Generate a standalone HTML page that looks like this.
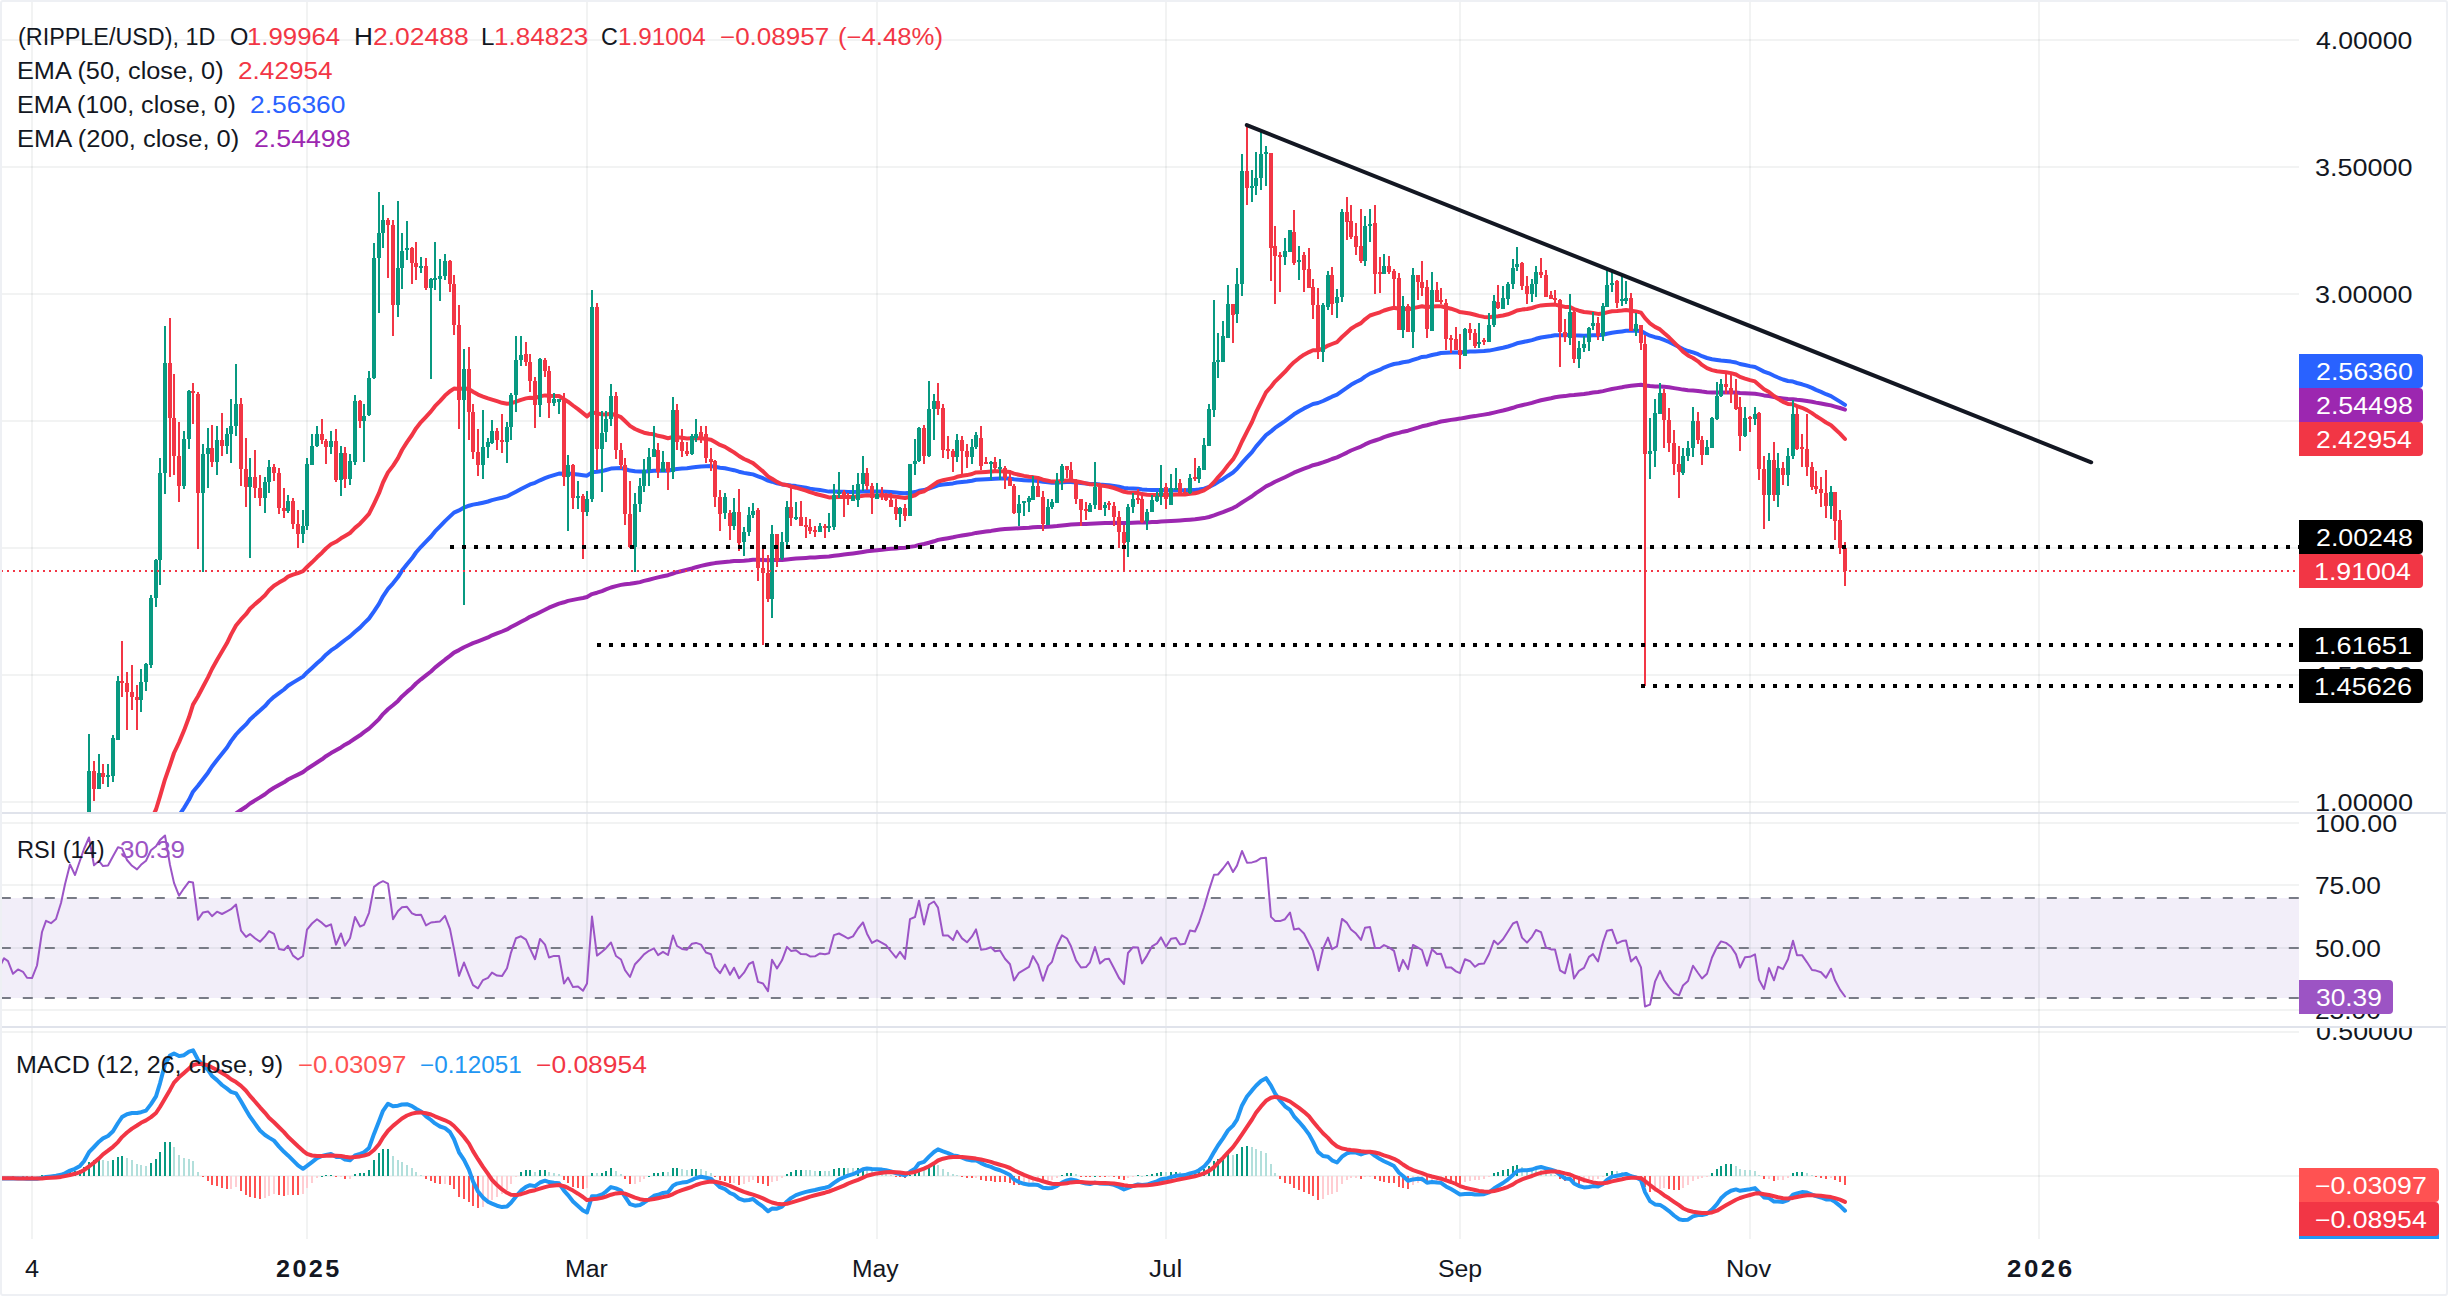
<!DOCTYPE html>
<html><head><meta charset="utf-8"><style>
html,body{margin:0;padding:0;background:#fff;}
body{width:2448px;height:1296px;position:relative;overflow:hidden;font-family:"Liberation Sans", Arial, sans-serif;}
.t{position:absolute;white-space:pre;font-size:23px;line-height:1;color:#131722;transform-origin:0 0;}
.ax{position:absolute;white-space:pre;font-size:23.5px;line-height:1;color:#131722;}
.lb{position:absolute;height:34px;line-height:34px;color:#fff;font-size:23.5px;border-radius:0 4px 4px 0;box-sizing:border-box;padding-left:14px;}
.r{color:#f23645}
</style></head><body>
<svg width="2448" height="1296" viewBox="0 0 2448 1296" style="position:absolute;left:0;top:0">
<defs><clipPath id="cm"><rect x="2" y="2" width="2297" height="810"/></clipPath><clipPath id="cr"><rect x="2" y="814" width="2297" height="212"/></clipPath><clipPath id="cd"><rect x="2" y="1028" width="2297" height="211"/></clipPath></defs>
<rect x="0" y="0" width="2448" height="1296" fill="#ffffff"/>
<rect x="0" y="898.0" width="2299" height="100.0" fill="#f2eef9"/>
<rect x="31" y="2" width="2" height="1237" fill="rgba(42,46,57,0.06)"/>
<rect x="306" y="2" width="2" height="1237" fill="rgba(42,46,57,0.06)"/>
<rect x="586" y="2" width="2" height="1237" fill="rgba(42,46,57,0.06)"/>
<rect x="876" y="2" width="2" height="1237" fill="rgba(42,46,57,0.06)"/>
<rect x="1165" y="2" width="2" height="1237" fill="rgba(42,46,57,0.06)"/>
<rect x="1459" y="2" width="2" height="1237" fill="rgba(42,46,57,0.06)"/>
<rect x="1749" y="2" width="2" height="1237" fill="rgba(42,46,57,0.06)"/>
<rect x="2038" y="2" width="2" height="1237" fill="rgba(42,46,57,0.06)"/>
<rect x="2" y="801.0" width="2297" height="2" fill="rgba(42,46,57,0.06)"/>
<rect x="2" y="674.0" width="2297" height="2" fill="rgba(42,46,57,0.06)"/>
<rect x="2" y="547.0" width="2297" height="2" fill="rgba(42,46,57,0.06)"/>
<rect x="2" y="420.0" width="2297" height="2" fill="rgba(42,46,57,0.06)"/>
<rect x="2" y="293.0" width="2297" height="2" fill="rgba(42,46,57,0.06)"/>
<rect x="2" y="166.0" width="2297" height="2" fill="rgba(42,46,57,0.06)"/>
<rect x="2" y="39.0" width="2297" height="2" fill="rgba(42,46,57,0.06)"/>
<rect x="2" y="822.0" width="2297" height="2" fill="rgba(42,46,57,0.06)"/>
<rect x="2" y="884.0" width="2297" height="2" fill="rgba(42,46,57,0.06)"/>
<rect x="2" y="947.0" width="2297" height="2" fill="rgba(42,46,57,0.06)"/>
<rect x="2" y="1009.0" width="2297" height="2" fill="rgba(42,46,57,0.06)"/>
<rect x="2" y="1031.0" width="2297" height="2" fill="rgba(42,46,57,0.06)"/>
<rect x="2" y="1175.0" width="2297" height="2" fill="rgba(42,46,57,0.06)"/>
<g clip-path="url(#cm)">
<polyline points="-25.0,915.2 -20.0,915.1 -15.0,915.1 -11.0,915.1 -6.0,915.1 -1.0,915.1 4.0,915.1 8.0,915.0 13.0,915.1 18.0,915.1 23.0,915.1 27.0,915.1 32.0,915.2 37.0,915.2 42.0,915.1 46.0,915.0 51.0,915.0 56.0,914.9 61.0,914.7 65.0,914.5 70.0,914.1 75.0,913.8 80.0,913.2 84.0,912.4 89.0,911.0 94.0,909.8 99.0,908.5 103.0,907.1 108.0,905.8 113.0,904.2 118.0,901.9 122.0,899.8 127.0,897.7 132.0,895.7 137.0,893.8 141.0,891.7 146.0,889.4 151.0,886.5 156.0,883.2 160.0,879.2 165.0,874.0 170.0,869.5 174.0,865.4 179.0,861.6 184.0,857.4 189.0,852.7 193.0,848.2 198.0,844.6 203.0,840.8 208.0,836.8 212.0,833.1 217.0,829.2 222.0,825.4 227.0,821.5 231.0,817.6 236.0,813.5 241.0,810.0 246.0,806.8 250.0,803.5 255.0,800.4 260.0,797.4 265.0,794.2 269.0,791.0 274.0,787.8 279.0,785.0 284.0,782.3 288.0,779.5 293.0,777.0 298.0,774.6 303.0,772.1 307.0,769.0 312.0,765.8 317.0,762.5 322.0,759.3 326.0,756.2 331.0,753.1 336.0,750.3 341.0,747.4 345.0,744.7 350.0,741.9 355.0,738.5 360.0,735.3 364.0,732.2 369.0,728.6 374.0,723.9 379.0,719.1 383.0,714.1 388.0,709.2 393.0,705.2 398.0,700.9 402.0,696.4 407.0,691.9 412.0,687.7 416.0,683.5 421.0,679.3 426.0,675.4 431.0,671.5 435.0,667.6 440.0,663.7 445.0,659.7 450.0,655.9 454.0,652.6 459.0,650.1 464.0,647.3 469.0,645.0 473.0,643.1 478.0,641.3 483.0,639.4 488.0,637.4 492.0,635.3 497.0,633.4 502.0,631.5 507.0,629.4 511.0,627.1 516.0,624.4 521.0,621.8 526.0,619.2 530.0,616.8 535.0,614.7 540.0,612.2 545.0,609.8 549.0,607.7 554.0,605.6 559.0,603.6 564.0,602.3 568.0,600.9 573.0,599.9 578.0,598.9 583.0,598.0 587.0,597.0 592.0,594.1 597.0,592.7 602.0,591.1 606.0,589.4 611.0,587.5 616.0,586.1 621.0,584.9 625.0,584.2 630.0,583.8 635.0,583.0 640.0,582.1 644.0,580.9 649.0,579.7 654.0,578.4 658.0,577.4 663.0,576.2 668.0,575.2 673.0,573.5 677.0,572.2 682.0,571.0 687.0,569.8 692.0,568.5 696.0,567.2 701.0,565.9 706.0,564.8 711.0,563.8 715.0,563.1 720.0,562.6 725.0,562.0 730.0,561.6 734.0,561.1 739.0,560.9 744.0,560.7 749.0,560.2 753.0,559.7 758.0,559.8 763.0,559.9 768.0,560.3 772.0,560.1 777.0,560.1 782.0,559.9 787.0,559.4 791.0,559.0 796.0,558.5 801.0,558.2 806.0,557.9 810.0,557.6 815.0,557.4 820.0,557.1 825.0,556.8 829.0,556.5 834.0,555.8 839.0,555.2 844.0,554.6 848.0,554.1 853.0,553.5 858.0,552.8 863.0,552.0 867.0,551.3 872.0,550.8 877.0,550.2 882.0,549.7 886.0,549.2 891.0,548.8 896.0,548.5 900.0,548.1 905.0,547.8 910.0,546.9 915.0,546.1 919.0,544.9 924.0,544.0 929.0,542.7 934.0,541.3 938.0,539.9 943.0,539.0 948.0,538.2 953.0,537.3 957.0,536.4 962.0,535.5 967.0,534.7 972.0,533.9 976.0,532.9 981.0,532.2 986.0,531.6 991.0,530.9 995.0,530.2 1000.0,529.6 1005.0,529.1 1010.0,528.7 1014.0,528.5 1019.0,528.3 1024.0,528.0 1029.0,527.7 1033.0,527.3 1038.0,527.0 1043.0,527.0 1048.0,526.8 1052.0,526.5 1057.0,526.1 1062.0,525.5 1067.0,524.9 1071.0,524.4 1076.0,524.2 1081.0,524.1 1086.0,523.9 1090.0,523.7 1095.0,523.4 1100.0,523.2 1105.0,523.0 1109.0,522.9 1114.0,522.8 1119.0,522.9 1124.0,523.1 1128.0,522.9 1133.0,522.7 1138.0,522.5 1142.0,522.5 1147.0,522.4 1152.0,522.1 1157.0,521.9 1161.0,521.5 1166.0,521.3 1171.0,521.0 1176.0,520.7 1180.0,520.4 1185.0,520.1 1190.0,519.7 1195.0,519.3 1199.0,518.8 1204.0,518.1 1209.0,517.0 1214.0,515.4 1218.0,513.9 1223.0,512.1 1228.0,510.1 1233.0,508.1 1237.0,505.9 1242.0,502.5 1247.0,499.4 1252.0,496.3 1256.0,493.1 1261.0,489.8 1266.0,486.4 1271.0,484.0 1275.0,481.8 1280.0,479.5 1285.0,477.2 1290.0,474.8 1294.0,472.7 1299.0,470.6 1304.0,468.6 1309.0,466.8 1313.0,465.2 1318.0,464.0 1323.0,462.4 1328.0,460.6 1332.0,459.0 1337.0,457.4 1342.0,455.0 1347.0,452.6 1351.0,450.5 1356.0,448.5 1361.0,446.6 1365.0,444.4 1370.0,442.2 1375.0,440.5 1380.0,438.9 1384.0,437.2 1389.0,435.5 1394.0,434.0 1399.0,432.9 1403.0,431.7 1408.0,430.7 1413.0,429.1 1418.0,427.6 1422.0,426.3 1427.0,425.3 1432.0,423.9 1437.0,422.7 1441.0,421.5 1446.0,420.7 1451.0,419.9 1456.0,419.2 1460.0,418.6 1465.0,417.7 1470.0,416.8 1475.0,416.1 1479.0,415.4 1484.0,414.6 1489.0,413.8 1494.0,412.6 1498.0,411.6 1503.0,410.5 1508.0,409.2 1513.0,407.8 1517.0,406.4 1522.0,405.2 1527.0,404.1 1532.0,402.9 1536.0,401.6 1541.0,400.3 1546.0,399.3 1551.0,398.3 1555.0,397.3 1560.0,396.6 1565.0,396.1 1570.0,395.2 1574.0,394.9 1579.0,394.4 1584.0,393.9 1589.0,393.2 1593.0,392.5 1598.0,392.0 1603.0,391.1 1607.0,390.1 1612.0,389.0 1617.0,388.1 1622.0,387.3 1626.0,386.4 1631.0,385.8 1636.0,385.2 1641.0,384.8 1645.0,385.5 1650.0,386.1 1655.0,386.4 1660.0,386.4 1664.0,386.8 1669.0,387.3 1674.0,388.1 1679.0,388.9 1683.0,389.6 1688.0,390.2 1693.0,390.5 1698.0,391.0 1702.0,391.6 1707.0,392.2 1712.0,392.5 1717.0,392.5 1721.0,392.4 1726.0,392.4 1731.0,392.4 1736.0,392.5 1740.0,393.0 1745.0,393.2 1750.0,393.5 1755.0,393.7 1759.0,394.4 1764.0,395.4 1769.0,396.1 1774.0,397.1 1778.0,397.8 1783.0,398.5 1788.0,399.1 1793.0,399.2 1797.0,399.7 1802.0,400.2 1807.0,400.9 1812.0,401.7 1816.0,402.6 1821.0,403.5 1826.0,404.5 1831.0,405.4 1835.0,406.6 1840.0,408.0 1845.0,409.6" fill="none" stroke="#9c27b0" stroke-width="4" stroke-linejoin="round" stroke-linecap="round"/>
<polyline points="-25.0,914.0 -20.0,914.0 -15.0,914.0 -11.0,913.9 -6.0,913.9 -1.0,913.9 4.0,913.9 8.0,913.9 13.0,914.0 18.0,914.0 23.0,914.1 27.0,914.2 32.0,914.3 37.0,914.3 42.0,914.2 46.0,914.1 51.0,913.9 56.0,913.8 61.0,913.5 65.0,913.1 70.0,912.4 75.0,911.7 80.0,910.7 84.0,909.1 89.0,906.4 94.0,904.1 99.0,901.5 103.0,899.0 108.0,896.5 113.0,893.4 118.0,889.2 122.0,885.1 127.0,881.3 132.0,877.7 137.0,874.2 141.0,870.4 146.0,866.3 151.0,861.0 156.0,855.0 160.0,847.4 165.0,837.8 170.0,829.5 174.0,822.1 179.0,815.5 184.0,808.0 189.0,799.8 193.0,791.7 198.0,785.8 203.0,779.2 208.0,772.7 212.0,766.5 217.0,760.0 222.0,753.8 227.0,747.5 231.0,741.1 236.0,734.5 241.0,729.2 246.0,724.4 250.0,719.5 255.0,714.9 260.0,710.6 265.0,706.1 269.0,701.4 274.0,696.8 279.0,693.1 284.0,689.5 288.0,685.8 293.0,682.6 298.0,679.6 303.0,676.6 307.0,672.4 312.0,667.9 317.0,663.3 322.0,658.9 326.0,654.7 331.0,650.4 336.0,647.1 341.0,643.2 345.0,640.0 350.0,636.4 355.0,631.8 360.0,627.6 364.0,623.4 369.0,618.5 374.0,611.4 379.0,603.9 383.0,596.3 388.0,588.9 393.0,583.3 398.0,577.1 402.0,570.6 407.0,564.2 412.0,558.3 416.0,552.5 421.0,546.8 426.0,541.7 431.0,536.5 435.0,531.4 440.0,526.3 445.0,521.1 450.0,516.4 454.0,512.6 459.0,510.4 464.0,507.6 469.0,505.7 473.0,504.6 478.0,503.8 483.0,502.7 488.0,501.5 492.0,500.1 497.0,498.9 502.0,497.8 507.0,496.4 511.0,494.3 516.0,491.7 521.0,489.0 526.0,486.5 530.0,484.4 535.0,482.8 540.0,480.3 545.0,478.2 549.0,476.7 554.0,475.2 559.0,473.6 564.0,473.7 568.0,473.5 573.0,474.0 578.0,474.5 583.0,475.2 587.0,475.7 592.0,472.3 597.0,471.8 602.0,471.1 606.0,470.0 611.0,468.6 616.0,468.2 621.0,468.1 625.0,469.0 630.0,470.6 635.0,471.3 640.0,471.6 644.0,471.5 649.0,471.2 654.0,470.8 658.0,470.8 663.0,470.6 668.0,470.7 673.0,469.5 677.0,468.9 682.0,468.6 687.0,468.3 692.0,467.6 696.0,467.0 701.0,466.4 706.0,466.2 711.0,466.1 715.0,466.8 720.0,467.7 725.0,468.3 730.0,469.4 734.0,470.2 739.0,471.7 744.0,472.9 749.0,473.7 753.0,474.4 758.0,476.3 763.0,478.2 768.0,480.6 772.0,481.7 777.0,483.3 782.0,484.4 787.0,484.9 791.0,485.5 796.0,486.1 801.0,486.9 806.0,487.7 810.0,488.6 815.0,489.4 820.0,490.1 825.0,490.9 829.0,491.6 834.0,491.6 839.0,491.7 844.0,491.7 848.0,491.9 853.0,492.0 858.0,491.8 863.0,491.4 867.0,491.3 872.0,491.5 877.0,491.5 882.0,491.6 886.0,491.8 891.0,492.1 896.0,492.5 900.0,492.9 905.0,493.3 910.0,492.7 915.0,492.1 919.0,490.8 924.0,490.1 929.0,488.5 934.0,486.8 938.0,485.3 943.0,484.6 948.0,483.9 953.0,483.4 957.0,482.5 962.0,481.9 967.0,481.4 972.0,480.7 976.0,479.8 981.0,479.5 986.0,479.2 991.0,478.9 995.0,478.7 1000.0,478.4 1005.0,478.4 1010.0,478.6 1014.0,479.3 1019.0,479.8 1024.0,480.2 1029.0,480.5 1033.0,480.6 1038.0,481.0 1043.0,481.8 1048.0,482.3 1052.0,482.7 1057.0,482.7 1062.0,482.3 1067.0,482.1 1071.0,482.0 1076.0,482.4 1081.0,482.9 1086.0,483.5 1090.0,483.9 1095.0,483.9 1100.0,484.5 1105.0,484.9 1109.0,485.2 1114.0,485.9 1119.0,486.8 1124.0,487.9 1128.0,488.3 1133.0,488.5 1138.0,488.7 1142.0,489.4 1147.0,489.8 1152.0,490.0 1157.0,490.1 1161.0,490.1 1166.0,490.3 1171.0,490.2 1176.0,490.2 1180.0,490.3 1185.0,490.3 1190.0,490.1 1195.0,489.9 1199.0,489.4 1204.0,488.6 1209.0,487.0 1214.0,484.5 1218.0,482.0 1223.0,479.2 1228.0,475.7 1233.0,472.5 1237.0,468.8 1242.0,462.9 1247.0,457.4 1252.0,452.1 1256.0,446.6 1261.0,440.9 1266.0,435.1 1271.0,431.4 1275.0,427.9 1280.0,424.5 1285.0,421.1 1290.0,417.3 1294.0,414.3 1299.0,411.2 1304.0,408.4 1309.0,406.0 1313.0,404.0 1318.0,403.0 1323.0,401.0 1328.0,398.6 1332.0,396.7 1337.0,394.7 1342.0,391.1 1347.0,387.7 1351.0,384.8 1356.0,382.0 1361.0,379.6 1365.0,376.6 1370.0,373.6 1375.0,371.6 1380.0,369.7 1384.0,367.6 1389.0,365.7 1394.0,364.0 1399.0,363.3 1403.0,362.2 1408.0,361.6 1413.0,359.9 1418.0,358.3 1422.0,356.9 1427.0,356.4 1432.0,355.0 1437.0,354.0 1441.0,353.0 1446.0,352.7 1451.0,352.4 1456.0,352.4 1460.0,352.4 1465.0,352.0 1470.0,351.6 1475.0,351.5 1479.0,351.3 1484.0,351.1 1489.0,350.6 1494.0,349.6 1498.0,348.8 1503.0,347.8 1508.0,346.5 1513.0,344.9 1517.0,343.3 1522.0,342.2 1527.0,341.2 1532.0,340.1 1536.0,338.8 1541.0,337.5 1546.0,336.7 1551.0,336.0 1555.0,335.2 1560.0,335.2 1565.0,335.2 1570.0,334.8 1574.0,335.2 1579.0,335.5 1584.0,335.7 1589.0,335.5 1593.0,335.3 1598.0,335.3 1603.0,334.7 1607.0,333.7 1612.0,332.7 1617.0,332.1 1622.0,331.4 1626.0,330.8 1631.0,330.8 1636.0,330.7 1641.0,330.9 1645.0,333.3 1650.0,335.7 1655.0,337.2 1660.0,338.3 1664.0,339.9 1669.0,342.0 1674.0,344.4 1679.0,346.9 1683.0,349.1 1688.0,351.0 1693.0,352.4 1698.0,354.2 1702.0,356.2 1707.0,358.0 1712.0,359.2 1717.0,359.9 1721.0,360.4 1726.0,360.9 1731.0,361.6 1736.0,362.5 1740.0,364.0 1745.0,365.0 1750.0,366.1 1755.0,367.0 1759.0,369.1 1764.0,371.6 1769.0,373.3 1774.0,375.7 1778.0,377.5 1783.0,379.5 1788.0,381.0 1793.0,381.6 1797.0,383.0 1802.0,384.3 1807.0,385.9 1812.0,387.9 1816.0,389.9 1821.0,391.9 1826.0,394.2 1831.0,396.1 1835.0,398.6 1840.0,401.6 1845.0,404.9" fill="none" stroke="#2962ff" stroke-width="4" stroke-linejoin="round" stroke-linecap="round"/>
<polyline points="-25.0,911.1 -20.0,911.2 -15.0,911.3 -11.0,911.3 -6.0,911.4 -1.0,911.5 4.0,911.6 8.0,911.7 13.0,911.9 18.0,912.1 23.0,912.3 27.0,912.5 32.0,912.7 37.0,912.9 42.0,912.8 46.0,912.5 51.0,912.3 56.0,912.1 61.0,911.6 65.0,910.9 70.0,909.5 75.0,908.3 80.0,906.4 84.0,903.5 89.0,898.3 94.0,894.0 99.0,889.3 103.0,884.9 108.0,880.6 113.0,875.0 118.0,867.4 122.0,860.1 127.0,853.6 132.0,847.4 137.0,841.7 141.0,835.4 146.0,828.7 151.0,819.7 156.0,809.5 160.0,796.3 165.0,779.3 170.0,765.1 174.0,753.0 179.0,742.5 184.0,730.6 189.0,717.3 193.0,704.6 198.0,696.3 203.0,686.8 208.0,677.4 212.0,669.0 217.0,660.0 222.0,651.6 227.0,643.1 231.0,634.6 236.0,625.5 241.0,619.4 246.0,614.2 250.0,608.8 255.0,604.1 260.0,599.9 265.0,595.3 269.0,590.3 274.0,585.7 279.0,582.6 284.0,579.8 288.0,576.7 293.0,574.7 298.0,573.1 303.0,571.2 307.0,567.0 312.0,562.3 317.0,557.3 322.0,552.7 326.0,548.5 331.0,544.3 336.0,541.8 341.0,538.3 345.0,536.0 350.0,533.0 355.0,527.9 360.0,523.7 364.0,519.4 369.0,513.9 374.0,503.8 379.0,493.2 383.0,482.5 388.0,472.4 393.0,465.9 398.0,458.1 402.0,450.0 407.0,442.1 412.0,435.0 416.0,428.4 421.0,422.1 426.0,416.8 431.0,411.4 435.0,406.2 440.0,401.1 445.0,395.6 450.0,391.2 454.0,388.6 459.0,389.1 464.0,388.3 469.0,389.2 473.0,391.7 478.0,394.6 483.0,396.6 488.0,398.4 492.0,399.6 497.0,401.2 502.0,402.8 507.0,403.7 511.0,403.4 516.0,401.7 521.0,399.9 526.0,398.4 530.0,397.7 535.0,398.0 540.0,396.4 545.0,395.4 549.0,395.7 554.0,395.9 559.0,396.0 564.0,399.2 568.0,401.7 573.0,405.5 578.0,409.1 583.0,413.1 587.0,416.4 592.0,412.1 597.0,413.6 602.0,414.3 606.0,414.5 611.0,413.8 616.0,415.2 621.0,417.2 625.0,421.0 630.0,425.9 635.0,429.0 640.0,431.2 644.0,432.7 649.0,433.7 654.0,434.3 658.0,435.8 663.0,436.8 668.0,438.2 673.0,437.0 677.0,437.2 682.0,437.8 687.0,438.4 692.0,438.3 696.0,438.2 701.0,438.2 706.0,438.9 711.0,439.8 715.0,442.1 720.0,444.9 725.0,446.9 730.0,450.0 734.0,452.4 739.0,456.0 744.0,459.0 749.0,461.2 753.0,463.1 758.0,467.2 763.0,471.4 768.0,476.4 772.0,478.7 777.0,481.9 782.0,484.3 787.0,485.2 791.0,486.5 796.0,487.7 801.0,489.2 806.0,490.6 810.0,492.2 815.0,493.7 820.0,495.0 825.0,496.3 829.0,497.4 834.0,497.3 839.0,497.1 844.0,497.1 848.0,497.1 853.0,497.1 858.0,496.6 863.0,495.7 867.0,495.3 872.0,495.4 877.0,495.4 882.0,495.4 886.0,495.6 891.0,496.1 896.0,496.8 900.0,497.2 905.0,498.0 910.0,496.7 915.0,495.3 919.0,492.6 924.0,491.2 929.0,488.0 934.0,484.5 938.0,481.6 943.0,480.3 948.0,479.1 953.0,478.3 957.0,476.8 962.0,475.8 967.0,475.1 972.0,474.0 976.0,472.4 981.0,472.2 986.0,471.9 991.0,471.5 995.0,471.3 1000.0,471.2 1005.0,471.4 1010.0,472.0 1014.0,473.6 1019.0,474.8 1024.0,475.9 1029.0,476.7 1033.0,477.1 1038.0,477.9 1043.0,479.7 1048.0,480.7 1052.0,481.6 1057.0,481.6 1062.0,480.9 1067.0,480.5 1071.0,480.5 1076.0,481.2 1081.0,482.3 1086.0,483.4 1090.0,484.3 1095.0,484.4 1100.0,485.4 1105.0,486.1 1109.0,486.8 1114.0,488.0 1119.0,489.8 1124.0,491.8 1128.0,492.4 1133.0,492.7 1138.0,493.0 1142.0,494.1 1147.0,494.8 1152.0,495.0 1157.0,495.0 1161.0,494.8 1166.0,494.9 1171.0,494.7 1176.0,494.4 1180.0,494.4 1185.0,494.4 1190.0,493.7 1195.0,493.2 1199.0,492.2 1204.0,490.3 1209.0,487.1 1214.0,482.2 1218.0,477.4 1223.0,471.9 1228.0,465.3 1233.0,459.4 1237.0,452.5 1242.0,441.5 1247.0,431.6 1252.0,422.0 1256.0,412.4 1261.0,402.3 1266.0,392.4 1271.0,386.7 1275.0,381.6 1280.0,376.7 1285.0,371.8 1290.0,366.2 1294.0,362.2 1299.0,358.2 1304.0,354.7 1309.0,352.1 1313.0,350.2 1318.0,350.3 1323.0,348.5 1328.0,345.6 1332.0,344.0 1337.0,342.1 1342.0,337.0 1347.0,332.5 1351.0,328.8 1356.0,325.6 1361.0,323.1 1365.0,319.3 1370.0,315.5 1375.0,313.9 1380.0,312.3 1384.0,310.5 1389.0,309.0 1394.0,307.8 1399.0,308.7 1403.0,308.6 1408.0,309.5 1413.0,308.1 1418.0,307.1 1422.0,306.3 1427.0,307.2 1432.0,306.5 1437.0,306.3 1441.0,306.2 1446.0,307.5 1451.0,308.7 1456.0,310.3 1460.0,312.1 1465.0,312.7 1470.0,313.5 1475.0,314.8 1479.0,315.9 1484.0,316.9 1489.0,317.2 1494.0,316.6 1498.0,316.2 1503.0,315.5 1508.0,314.3 1513.0,312.4 1517.0,310.5 1522.0,309.6 1527.0,309.0 1532.0,308.0 1536.0,306.6 1541.0,305.4 1546.0,305.0 1551.0,304.8 1555.0,304.6 1560.0,305.7 1565.0,306.9 1570.0,307.1 1574.0,309.1 1579.0,310.7 1584.0,312.0 1589.0,312.6 1593.0,313.0 1598.0,313.9 1603.0,313.6 1607.0,312.4 1612.0,311.3 1617.0,311.0 1622.0,310.5 1626.0,310.0 1631.0,310.8 1636.0,311.4 1641.0,312.6 1645.0,318.1 1650.0,323.3 1655.0,326.9 1660.0,329.4 1664.0,333.0 1669.0,337.3 1674.0,342.3 1679.0,347.4 1683.0,351.6 1688.0,355.4 1693.0,358.0 1698.0,361.3 1702.0,364.9 1707.0,368.2 1712.0,370.1 1717.0,371.2 1721.0,371.7 1726.0,372.3 1731.0,373.1 1736.0,374.5 1740.0,376.9 1745.0,378.6 1750.0,380.1 1755.0,381.4 1759.0,384.9 1764.0,389.2 1769.0,392.0 1774.0,396.0 1778.0,398.8 1783.0,401.8 1788.0,403.9 1793.0,404.3 1797.0,406.1 1802.0,407.8 1807.0,410.1 1812.0,413.1 1816.0,416.0 1821.0,419.1 1826.0,422.5 1831.0,425.2 1835.0,429.0 1840.0,433.6 1845.0,439.0" fill="none" stroke="#f23645" stroke-width="4" stroke-linejoin="round" stroke-linecap="round"/>
<rect x="88" y="734" width="2" height="96" fill="#089981"/>
<rect x="87" y="771" width="4" height="59" fill="#089981"/>
<rect x="93" y="761" width="2" height="40" fill="#f23645"/>
<rect x="92" y="771" width="4" height="18" fill="#f23645"/>
<rect x="98" y="754" width="2" height="35" fill="#089981"/>
<rect x="97" y="773" width="4" height="16" fill="#089981"/>
<rect x="102" y="764" width="2" height="20" fill="#f23645"/>
<rect x="101" y="773" width="4" height="4" fill="#f23645"/>
<rect x="107" y="764" width="2" height="23" fill="#089981"/>
<rect x="106" y="775" width="4" height="2" fill="#089981"/>
<rect x="112" y="735" width="2" height="47" fill="#089981"/>
<rect x="111" y="738" width="4" height="38" fill="#089981"/>
<rect x="117" y="676" width="2" height="64" fill="#089981"/>
<rect x="116" y="681" width="4" height="59" fill="#089981"/>
<rect x="121" y="641" width="2" height="56" fill="#f23645"/>
<rect x="120" y="681" width="4" height="2" fill="#f23645"/>
<rect x="126" y="672" width="2" height="58" fill="#f23645"/>
<rect x="125" y="683" width="4" height="9" fill="#f23645"/>
<rect x="131" y="665" width="2" height="45" fill="#f23645"/>
<rect x="130" y="692" width="4" height="5" fill="#f23645"/>
<rect x="136" y="685" width="2" height="45" fill="#f23645"/>
<rect x="135" y="697" width="4" height="3" fill="#f23645"/>
<rect x="140" y="669" width="2" height="43" fill="#089981"/>
<rect x="139" y="682" width="4" height="18" fill="#089981"/>
<rect x="145" y="663" width="2" height="28" fill="#089981"/>
<rect x="144" y="664" width="4" height="18" fill="#089981"/>
<rect x="150" y="595" width="2" height="73" fill="#089981"/>
<rect x="149" y="598" width="4" height="67" fill="#089981"/>
<rect x="155" y="559" width="2" height="48" fill="#089981"/>
<rect x="154" y="560" width="4" height="38" fill="#089981"/>
<rect x="159" y="458" width="2" height="127" fill="#089981"/>
<rect x="158" y="473" width="4" height="87" fill="#089981"/>
<rect x="164" y="326" width="2" height="168" fill="#089981"/>
<rect x="163" y="363" width="4" height="110" fill="#089981"/>
<rect x="169" y="318" width="2" height="159" fill="#f23645"/>
<rect x="168" y="363" width="4" height="55" fill="#f23645"/>
<rect x="173" y="374" width="2" height="101" fill="#f23645"/>
<rect x="172" y="418" width="4" height="38" fill="#f23645"/>
<rect x="178" y="422" width="2" height="80" fill="#f23645"/>
<rect x="177" y="456" width="4" height="30" fill="#f23645"/>
<rect x="183" y="431" width="2" height="58" fill="#089981"/>
<rect x="182" y="439" width="4" height="47" fill="#089981"/>
<rect x="188" y="390" width="2" height="59" fill="#089981"/>
<rect x="187" y="391" width="4" height="48" fill="#089981"/>
<rect x="192" y="383" width="2" height="41" fill="#f23645"/>
<rect x="191" y="391" width="4" height="2" fill="#f23645"/>
<rect x="197" y="392" width="2" height="157" fill="#f23645"/>
<rect x="196" y="394" width="4" height="99" fill="#f23645"/>
<rect x="202" y="444" width="2" height="128" fill="#089981"/>
<rect x="201" y="454" width="4" height="39" fill="#089981"/>
<rect x="207" y="428" width="2" height="60" fill="#089981"/>
<rect x="206" y="448" width="4" height="6" fill="#089981"/>
<rect x="211" y="425" width="2" height="42" fill="#f23645"/>
<rect x="210" y="448" width="4" height="14" fill="#f23645"/>
<rect x="216" y="426" width="2" height="49" fill="#089981"/>
<rect x="215" y="440" width="4" height="22" fill="#089981"/>
<rect x="221" y="413" width="2" height="43" fill="#f23645"/>
<rect x="220" y="440" width="4" height="6" fill="#f23645"/>
<rect x="226" y="428" width="2" height="26" fill="#089981"/>
<rect x="225" y="434" width="4" height="12" fill="#089981"/>
<rect x="230" y="399" width="2" height="64" fill="#089981"/>
<rect x="229" y="426" width="4" height="8" fill="#089981"/>
<rect x="235" y="364" width="2" height="72" fill="#089981"/>
<rect x="234" y="404" width="4" height="22" fill="#089981"/>
<rect x="240" y="398" width="2" height="88" fill="#f23645"/>
<rect x="239" y="404" width="4" height="65" fill="#f23645"/>
<rect x="245" y="438" width="2" height="69" fill="#f23645"/>
<rect x="244" y="469" width="4" height="18" fill="#f23645"/>
<rect x="249" y="458" width="2" height="100" fill="#089981"/>
<rect x="248" y="477" width="4" height="10" fill="#089981"/>
<rect x="254" y="450" width="2" height="48" fill="#f23645"/>
<rect x="253" y="477" width="4" height="11" fill="#f23645"/>
<rect x="259" y="475" width="2" height="31" fill="#f23645"/>
<rect x="258" y="488" width="4" height="10" fill="#f23645"/>
<rect x="264" y="477" width="2" height="36" fill="#089981"/>
<rect x="263" y="482" width="4" height="16" fill="#089981"/>
<rect x="268" y="460" width="2" height="33" fill="#089981"/>
<rect x="267" y="467" width="4" height="15" fill="#089981"/>
<rect x="273" y="464" width="2" height="17" fill="#f23645"/>
<rect x="272" y="467" width="4" height="6" fill="#f23645"/>
<rect x="278" y="468" width="2" height="46" fill="#f23645"/>
<rect x="277" y="473" width="4" height="35" fill="#f23645"/>
<rect x="283" y="488" width="2" height="30" fill="#f23645"/>
<rect x="282" y="508" width="4" height="3" fill="#f23645"/>
<rect x="287" y="495" width="2" height="18" fill="#089981"/>
<rect x="286" y="501" width="4" height="10" fill="#089981"/>
<rect x="292" y="498" width="2" height="31" fill="#f23645"/>
<rect x="291" y="501" width="4" height="23" fill="#f23645"/>
<rect x="297" y="510" width="2" height="38" fill="#f23645"/>
<rect x="296" y="524" width="4" height="10" fill="#f23645"/>
<rect x="302" y="510" width="2" height="33" fill="#089981"/>
<rect x="301" y="526" width="4" height="8" fill="#089981"/>
<rect x="306" y="458" width="2" height="72" fill="#089981"/>
<rect x="305" y="464" width="4" height="62" fill="#089981"/>
<rect x="311" y="434" width="2" height="31" fill="#089981"/>
<rect x="310" y="446" width="4" height="19" fill="#089981"/>
<rect x="316" y="426" width="2" height="21" fill="#089981"/>
<rect x="315" y="434" width="4" height="12" fill="#089981"/>
<rect x="321" y="419" width="2" height="25" fill="#f23645"/>
<rect x="320" y="434" width="4" height="6" fill="#f23645"/>
<rect x="325" y="439" width="2" height="25" fill="#f23645"/>
<rect x="324" y="441" width="4" height="6" fill="#f23645"/>
<rect x="330" y="431" width="2" height="23" fill="#089981"/>
<rect x="329" y="441" width="4" height="6" fill="#089981"/>
<rect x="335" y="429" width="2" height="53" fill="#f23645"/>
<rect x="334" y="441" width="4" height="39" fill="#f23645"/>
<rect x="340" y="446" width="2" height="50" fill="#089981"/>
<rect x="339" y="453" width="4" height="27" fill="#089981"/>
<rect x="344" y="447" width="2" height="41" fill="#f23645"/>
<rect x="343" y="453" width="4" height="26" fill="#f23645"/>
<rect x="349" y="454" width="2" height="31" fill="#089981"/>
<rect x="348" y="461" width="4" height="18" fill="#089981"/>
<rect x="354" y="395" width="2" height="70" fill="#089981"/>
<rect x="353" y="401" width="4" height="61" fill="#089981"/>
<rect x="359" y="400" width="2" height="28" fill="#f23645"/>
<rect x="358" y="401" width="4" height="20" fill="#f23645"/>
<rect x="363" y="404" width="2" height="58" fill="#089981"/>
<rect x="362" y="416" width="4" height="5" fill="#089981"/>
<rect x="368" y="371" width="2" height="45" fill="#089981"/>
<rect x="367" y="378" width="4" height="37" fill="#089981"/>
<rect x="373" y="243" width="2" height="136" fill="#089981"/>
<rect x="372" y="258" width="4" height="120" fill="#089981"/>
<rect x="378" y="192" width="2" height="121" fill="#089981"/>
<rect x="377" y="233" width="4" height="25" fill="#089981"/>
<rect x="382" y="205" width="2" height="43" fill="#089981"/>
<rect x="381" y="220" width="4" height="13" fill="#089981"/>
<rect x="387" y="218" width="2" height="60" fill="#f23645"/>
<rect x="386" y="220" width="4" height="5" fill="#f23645"/>
<rect x="392" y="220" width="2" height="116" fill="#f23645"/>
<rect x="391" y="225" width="4" height="80" fill="#f23645"/>
<rect x="397" y="201" width="2" height="116" fill="#089981"/>
<rect x="396" y="268" width="4" height="37" fill="#089981"/>
<rect x="401" y="233" width="2" height="56" fill="#089981"/>
<rect x="400" y="251" width="4" height="17" fill="#089981"/>
<rect x="406" y="221" width="2" height="39" fill="#089981"/>
<rect x="405" y="248" width="4" height="2" fill="#089981"/>
<rect x="411" y="247" width="2" height="37" fill="#f23645"/>
<rect x="410" y="248" width="4" height="15" fill="#f23645"/>
<rect x="415" y="242" width="2" height="38" fill="#f23645"/>
<rect x="414" y="263" width="4" height="4" fill="#f23645"/>
<rect x="420" y="257" width="2" height="16" fill="#089981"/>
<rect x="419" y="266" width="4" height="2" fill="#089981"/>
<rect x="425" y="258" width="2" height="32" fill="#f23645"/>
<rect x="424" y="266" width="4" height="22" fill="#f23645"/>
<rect x="430" y="278" width="2" height="101" fill="#089981"/>
<rect x="429" y="279" width="4" height="9" fill="#089981"/>
<rect x="434" y="242" width="2" height="48" fill="#089981"/>
<rect x="433" y="278" width="4" height="2" fill="#089981"/>
<rect x="439" y="259" width="2" height="42" fill="#089981"/>
<rect x="438" y="276" width="4" height="3" fill="#089981"/>
<rect x="444" y="254" width="2" height="26" fill="#089981"/>
<rect x="443" y="261" width="4" height="15" fill="#089981"/>
<rect x="449" y="260" width="2" height="32" fill="#f23645"/>
<rect x="448" y="261" width="4" height="23" fill="#f23645"/>
<rect x="453" y="275" width="2" height="60" fill="#f23645"/>
<rect x="452" y="284" width="4" height="41" fill="#f23645"/>
<rect x="458" y="305" width="2" height="124" fill="#f23645"/>
<rect x="457" y="325" width="4" height="75" fill="#f23645"/>
<rect x="463" y="349" width="2" height="256" fill="#089981"/>
<rect x="462" y="369" width="4" height="31" fill="#089981"/>
<rect x="468" y="347" width="2" height="93" fill="#f23645"/>
<rect x="467" y="369" width="4" height="43" fill="#f23645"/>
<rect x="472" y="404" width="2" height="55" fill="#f23645"/>
<rect x="471" y="412" width="4" height="40" fill="#f23645"/>
<rect x="477" y="429" width="2" height="47" fill="#f23645"/>
<rect x="476" y="452" width="4" height="13" fill="#f23645"/>
<rect x="482" y="410" width="2" height="69" fill="#089981"/>
<rect x="481" y="447" width="4" height="18" fill="#089981"/>
<rect x="487" y="438" width="2" height="20" fill="#089981"/>
<rect x="486" y="442" width="4" height="5" fill="#089981"/>
<rect x="491" y="420" width="2" height="24" fill="#089981"/>
<rect x="490" y="431" width="4" height="12" fill="#089981"/>
<rect x="496" y="428" width="2" height="22" fill="#f23645"/>
<rect x="495" y="431" width="4" height="9" fill="#f23645"/>
<rect x="501" y="414" width="2" height="39" fill="#f23645"/>
<rect x="500" y="440" width="4" height="2" fill="#f23645"/>
<rect x="506" y="422" width="2" height="41" fill="#089981"/>
<rect x="505" y="427" width="4" height="15" fill="#089981"/>
<rect x="510" y="393" width="2" height="47" fill="#089981"/>
<rect x="509" y="395" width="4" height="32" fill="#089981"/>
<rect x="515" y="336" width="2" height="76" fill="#089981"/>
<rect x="514" y="360" width="4" height="35" fill="#089981"/>
<rect x="520" y="336" width="2" height="30" fill="#089981"/>
<rect x="519" y="355" width="4" height="5" fill="#089981"/>
<rect x="525" y="342" width="2" height="24" fill="#f23645"/>
<rect x="524" y="354" width="4" height="8" fill="#f23645"/>
<rect x="529" y="354" width="2" height="38" fill="#f23645"/>
<rect x="528" y="362" width="4" height="19" fill="#f23645"/>
<rect x="534" y="377" width="2" height="51" fill="#f23645"/>
<rect x="533" y="381" width="4" height="24" fill="#f23645"/>
<rect x="539" y="358" width="2" height="59" fill="#089981"/>
<rect x="538" y="359" width="4" height="46" fill="#089981"/>
<rect x="544" y="358" width="2" height="19" fill="#f23645"/>
<rect x="543" y="360" width="4" height="11" fill="#f23645"/>
<rect x="548" y="366" width="2" height="52" fill="#f23645"/>
<rect x="547" y="371" width="4" height="32" fill="#f23645"/>
<rect x="553" y="393" width="2" height="13" fill="#089981"/>
<rect x="552" y="399" width="4" height="4" fill="#089981"/>
<rect x="558" y="399" width="2" height="15" fill="#089981"/>
<rect x="557" y="399" width="4" height="3" fill="#089981"/>
<rect x="563" y="393" width="2" height="93" fill="#f23645"/>
<rect x="562" y="399" width="4" height="78" fill="#f23645"/>
<rect x="567" y="455" width="2" height="76" fill="#089981"/>
<rect x="566" y="465" width="4" height="12" fill="#089981"/>
<rect x="572" y="464" width="2" height="45" fill="#f23645"/>
<rect x="571" y="465" width="4" height="33" fill="#f23645"/>
<rect x="577" y="481" width="2" height="28" fill="#089981"/>
<rect x="576" y="496" width="4" height="2" fill="#089981"/>
<rect x="582" y="494" width="2" height="65" fill="#f23645"/>
<rect x="581" y="496" width="4" height="16" fill="#f23645"/>
<rect x="586" y="491" width="2" height="25" fill="#089981"/>
<rect x="585" y="499" width="4" height="13" fill="#089981"/>
<rect x="591" y="290" width="2" height="212" fill="#089981"/>
<rect x="590" y="307" width="4" height="192" fill="#089981"/>
<rect x="596" y="303" width="2" height="167" fill="#f23645"/>
<rect x="595" y="307" width="4" height="142" fill="#f23645"/>
<rect x="601" y="411" width="2" height="81" fill="#089981"/>
<rect x="600" y="433" width="4" height="16" fill="#089981"/>
<rect x="605" y="411" width="2" height="31" fill="#089981"/>
<rect x="604" y="419" width="4" height="13" fill="#089981"/>
<rect x="610" y="384" width="2" height="42" fill="#089981"/>
<rect x="609" y="396" width="4" height="23" fill="#089981"/>
<rect x="615" y="392" width="2" height="67" fill="#f23645"/>
<rect x="614" y="396" width="4" height="54" fill="#f23645"/>
<rect x="620" y="443" width="2" height="26" fill="#f23645"/>
<rect x="619" y="450" width="4" height="15" fill="#f23645"/>
<rect x="624" y="458" width="2" height="67" fill="#f23645"/>
<rect x="623" y="465" width="4" height="49" fill="#f23645"/>
<rect x="629" y="481" width="2" height="67" fill="#f23645"/>
<rect x="628" y="514" width="4" height="33" fill="#f23645"/>
<rect x="634" y="493" width="2" height="79" fill="#089981"/>
<rect x="633" y="504" width="4" height="43" fill="#089981"/>
<rect x="639" y="478" width="2" height="34" fill="#089981"/>
<rect x="638" y="486" width="4" height="18" fill="#089981"/>
<rect x="643" y="459" width="2" height="33" fill="#089981"/>
<rect x="642" y="470" width="4" height="16" fill="#089981"/>
<rect x="648" y="448" width="2" height="38" fill="#089981"/>
<rect x="647" y="457" width="4" height="13" fill="#089981"/>
<rect x="653" y="426" width="2" height="31" fill="#089981"/>
<rect x="652" y="449" width="4" height="8" fill="#089981"/>
<rect x="657" y="443" width="2" height="35" fill="#f23645"/>
<rect x="656" y="450" width="4" height="22" fill="#f23645"/>
<rect x="662" y="451" width="2" height="21" fill="#089981"/>
<rect x="661" y="462" width="4" height="10" fill="#089981"/>
<rect x="667" y="462" width="2" height="28" fill="#f23645"/>
<rect x="666" y="462" width="4" height="10" fill="#f23645"/>
<rect x="672" y="397" width="2" height="82" fill="#089981"/>
<rect x="671" y="410" width="4" height="62" fill="#089981"/>
<rect x="676" y="404" width="2" height="46" fill="#f23645"/>
<rect x="675" y="410" width="4" height="32" fill="#f23645"/>
<rect x="681" y="429" width="2" height="28" fill="#f23645"/>
<rect x="680" y="442" width="4" height="9" fill="#f23645"/>
<rect x="686" y="442" width="2" height="14" fill="#f23645"/>
<rect x="685" y="451" width="4" height="3" fill="#f23645"/>
<rect x="691" y="434" width="2" height="21" fill="#089981"/>
<rect x="690" y="436" width="4" height="18" fill="#089981"/>
<rect x="695" y="419" width="2" height="23" fill="#089981"/>
<rect x="694" y="434" width="4" height="4" fill="#089981"/>
<rect x="700" y="426" width="2" height="17" fill="#f23645"/>
<rect x="699" y="432" width="4" height="6" fill="#f23645"/>
<rect x="705" y="426" width="2" height="37" fill="#f23645"/>
<rect x="704" y="434" width="4" height="24" fill="#f23645"/>
<rect x="710" y="448" width="2" height="23" fill="#f23645"/>
<rect x="709" y="459" width="4" height="3" fill="#f23645"/>
<rect x="714" y="460" width="2" height="47" fill="#f23645"/>
<rect x="713" y="461" width="4" height="36" fill="#f23645"/>
<rect x="719" y="490" width="2" height="41" fill="#f23645"/>
<rect x="718" y="497" width="4" height="17" fill="#f23645"/>
<rect x="724" y="493" width="2" height="26" fill="#089981"/>
<rect x="723" y="497" width="4" height="16" fill="#089981"/>
<rect x="729" y="510" width="2" height="30" fill="#f23645"/>
<rect x="728" y="513" width="4" height="13" fill="#f23645"/>
<rect x="733" y="498" width="2" height="32" fill="#089981"/>
<rect x="732" y="512" width="4" height="14" fill="#089981"/>
<rect x="738" y="489" width="2" height="62" fill="#f23645"/>
<rect x="737" y="512" width="4" height="31" fill="#f23645"/>
<rect x="743" y="527" width="2" height="29" fill="#089981"/>
<rect x="742" y="532" width="4" height="10" fill="#089981"/>
<rect x="748" y="507" width="2" height="29" fill="#089981"/>
<rect x="747" y="515" width="4" height="17" fill="#089981"/>
<rect x="752" y="503" width="2" height="15" fill="#089981"/>
<rect x="751" y="511" width="4" height="4" fill="#089981"/>
<rect x="757" y="508" width="2" height="73" fill="#f23645"/>
<rect x="756" y="510" width="4" height="58" fill="#f23645"/>
<rect x="762" y="546" width="2" height="99" fill="#f23645"/>
<rect x="761" y="568" width="4" height="5" fill="#f23645"/>
<rect x="767" y="555" width="2" height="47" fill="#f23645"/>
<rect x="766" y="573" width="4" height="26" fill="#f23645"/>
<rect x="771" y="525" width="2" height="93" fill="#089981"/>
<rect x="770" y="534" width="4" height="65" fill="#089981"/>
<rect x="776" y="534" width="2" height="33" fill="#f23645"/>
<rect x="775" y="534" width="4" height="27" fill="#f23645"/>
<rect x="781" y="532" width="2" height="28" fill="#089981"/>
<rect x="780" y="542" width="4" height="16" fill="#089981"/>
<rect x="786" y="501" width="2" height="45" fill="#089981"/>
<rect x="785" y="507" width="4" height="35" fill="#089981"/>
<rect x="790" y="488" width="2" height="38" fill="#f23645"/>
<rect x="789" y="507" width="4" height="11" fill="#f23645"/>
<rect x="795" y="502" width="2" height="18" fill="#089981"/>
<rect x="794" y="517" width="4" height="2" fill="#089981"/>
<rect x="800" y="501" width="2" height="25" fill="#f23645"/>
<rect x="799" y="517" width="4" height="9" fill="#f23645"/>
<rect x="805" y="517" width="2" height="21" fill="#f23645"/>
<rect x="804" y="525" width="4" height="2" fill="#f23645"/>
<rect x="809" y="519" width="2" height="15" fill="#f23645"/>
<rect x="808" y="527" width="4" height="4" fill="#f23645"/>
<rect x="814" y="526" width="2" height="11" fill="#f23645"/>
<rect x="813" y="530" width="4" height="2" fill="#f23645"/>
<rect x="819" y="523" width="2" height="9" fill="#089981"/>
<rect x="818" y="526" width="4" height="6" fill="#089981"/>
<rect x="824" y="524" width="2" height="14" fill="#f23645"/>
<rect x="823" y="526" width="4" height="2" fill="#f23645"/>
<rect x="828" y="513" width="2" height="19" fill="#089981"/>
<rect x="827" y="526" width="4" height="2" fill="#089981"/>
<rect x="833" y="484" width="2" height="46" fill="#089981"/>
<rect x="832" y="495" width="4" height="32" fill="#089981"/>
<rect x="838" y="472" width="2" height="26" fill="#089981"/>
<rect x="837" y="492" width="4" height="2" fill="#089981"/>
<rect x="843" y="490" width="2" height="27" fill="#f23645"/>
<rect x="842" y="492" width="4" height="4" fill="#f23645"/>
<rect x="847" y="493" width="2" height="12" fill="#f23645"/>
<rect x="846" y="496" width="4" height="3" fill="#f23645"/>
<rect x="852" y="485" width="2" height="16" fill="#089981"/>
<rect x="851" y="496" width="4" height="5" fill="#089981"/>
<rect x="857" y="473" width="2" height="34" fill="#089981"/>
<rect x="856" y="484" width="4" height="16" fill="#089981"/>
<rect x="862" y="456" width="2" height="35" fill="#089981"/>
<rect x="861" y="473" width="4" height="11" fill="#089981"/>
<rect x="866" y="468" width="2" height="22" fill="#f23645"/>
<rect x="865" y="473" width="4" height="13" fill="#f23645"/>
<rect x="871" y="483" width="2" height="31" fill="#f23645"/>
<rect x="870" y="486" width="4" height="12" fill="#f23645"/>
<rect x="876" y="483" width="2" height="16" fill="#089981"/>
<rect x="875" y="494" width="4" height="5" fill="#089981"/>
<rect x="881" y="487" width="2" height="13" fill="#f23645"/>
<rect x="880" y="493" width="4" height="4" fill="#f23645"/>
<rect x="885" y="493" width="2" height="8" fill="#f23645"/>
<rect x="884" y="495" width="4" height="5" fill="#f23645"/>
<rect x="890" y="493" width="2" height="14" fill="#f23645"/>
<rect x="889" y="500" width="4" height="7" fill="#f23645"/>
<rect x="895" y="499" width="2" height="21" fill="#f23645"/>
<rect x="894" y="507" width="4" height="7" fill="#f23645"/>
<rect x="899" y="507" width="2" height="20" fill="#089981"/>
<rect x="898" y="508" width="4" height="6" fill="#089981"/>
<rect x="904" y="504" width="2" height="17" fill="#f23645"/>
<rect x="903" y="508" width="4" height="8" fill="#f23645"/>
<rect x="909" y="464" width="2" height="52" fill="#089981"/>
<rect x="908" y="464" width="4" height="52" fill="#089981"/>
<rect x="914" y="439" width="2" height="36" fill="#089981"/>
<rect x="913" y="461" width="4" height="3" fill="#089981"/>
<rect x="918" y="427" width="2" height="35" fill="#089981"/>
<rect x="917" y="428" width="4" height="33" fill="#089981"/>
<rect x="923" y="425" width="2" height="39" fill="#f23645"/>
<rect x="922" y="428" width="4" height="28" fill="#f23645"/>
<rect x="928" y="381" width="2" height="76" fill="#089981"/>
<rect x="927" y="409" width="4" height="47" fill="#089981"/>
<rect x="933" y="394" width="2" height="46" fill="#089981"/>
<rect x="932" y="401" width="4" height="8" fill="#089981"/>
<rect x="937" y="383" width="2" height="32" fill="#f23645"/>
<rect x="936" y="401" width="4" height="8" fill="#f23645"/>
<rect x="942" y="404" width="2" height="54" fill="#f23645"/>
<rect x="941" y="408" width="4" height="42" fill="#f23645"/>
<rect x="947" y="436" width="2" height="23" fill="#f23645"/>
<rect x="946" y="449" width="4" height="2" fill="#f23645"/>
<rect x="952" y="449" width="2" height="23" fill="#f23645"/>
<rect x="951" y="451" width="4" height="6" fill="#f23645"/>
<rect x="956" y="434" width="2" height="28" fill="#089981"/>
<rect x="955" y="440" width="4" height="17" fill="#089981"/>
<rect x="961" y="436" width="2" height="38" fill="#f23645"/>
<rect x="960" y="440" width="4" height="11" fill="#f23645"/>
<rect x="966" y="444" width="2" height="24" fill="#f23645"/>
<rect x="965" y="451" width="4" height="6" fill="#f23645"/>
<rect x="971" y="439" width="2" height="25" fill="#089981"/>
<rect x="970" y="447" width="4" height="10" fill="#089981"/>
<rect x="975" y="432" width="2" height="17" fill="#089981"/>
<rect x="974" y="435" width="4" height="12" fill="#089981"/>
<rect x="980" y="426" width="2" height="44" fill="#f23645"/>
<rect x="979" y="438" width="4" height="28" fill="#f23645"/>
<rect x="985" y="457" width="2" height="7" fill="#f23645"/>
<rect x="984" y="462" width="4" height="2" fill="#f23645"/>
<rect x="990" y="461" width="2" height="19" fill="#089981"/>
<rect x="989" y="462" width="4" height="2" fill="#089981"/>
<rect x="994" y="457" width="2" height="13" fill="#f23645"/>
<rect x="993" y="462" width="4" height="6" fill="#f23645"/>
<rect x="999" y="459" width="2" height="21" fill="#089981"/>
<rect x="998" y="467" width="4" height="2" fill="#089981"/>
<rect x="1004" y="466" width="2" height="23" fill="#f23645"/>
<rect x="1003" y="468" width="4" height="10" fill="#f23645"/>
<rect x="1009" y="470" width="2" height="16" fill="#f23645"/>
<rect x="1008" y="478" width="4" height="8" fill="#f23645"/>
<rect x="1013" y="484" width="2" height="30" fill="#f23645"/>
<rect x="1012" y="486" width="4" height="27" fill="#f23645"/>
<rect x="1018" y="495" width="2" height="31" fill="#089981"/>
<rect x="1017" y="504" width="4" height="9" fill="#089981"/>
<rect x="1023" y="501" width="2" height="15" fill="#089981"/>
<rect x="1022" y="501" width="4" height="2" fill="#089981"/>
<rect x="1028" y="496" width="2" height="16" fill="#089981"/>
<rect x="1027" y="498" width="4" height="4" fill="#089981"/>
<rect x="1032" y="476" width="2" height="24" fill="#089981"/>
<rect x="1031" y="486" width="4" height="14" fill="#089981"/>
<rect x="1037" y="480" width="2" height="17" fill="#f23645"/>
<rect x="1036" y="486" width="4" height="11" fill="#f23645"/>
<rect x="1042" y="491" width="2" height="40" fill="#f23645"/>
<rect x="1041" y="497" width="4" height="27" fill="#f23645"/>
<rect x="1047" y="499" width="2" height="26" fill="#089981"/>
<rect x="1046" y="507" width="4" height="18" fill="#089981"/>
<rect x="1051" y="499" width="2" height="10" fill="#089981"/>
<rect x="1050" y="502" width="4" height="5" fill="#089981"/>
<rect x="1056" y="473" width="2" height="30" fill="#089981"/>
<rect x="1055" y="481" width="4" height="22" fill="#089981"/>
<rect x="1061" y="464" width="2" height="26" fill="#089981"/>
<rect x="1060" y="466" width="4" height="15" fill="#089981"/>
<rect x="1066" y="466" width="2" height="12" fill="#f23645"/>
<rect x="1065" y="466" width="4" height="4" fill="#f23645"/>
<rect x="1070" y="462" width="2" height="18" fill="#f23645"/>
<rect x="1069" y="470" width="4" height="10" fill="#f23645"/>
<rect x="1075" y="479" width="2" height="25" fill="#f23645"/>
<rect x="1074" y="480" width="4" height="19" fill="#f23645"/>
<rect x="1080" y="499" width="2" height="27" fill="#f23645"/>
<rect x="1079" y="499" width="4" height="11" fill="#f23645"/>
<rect x="1085" y="502" width="2" height="18" fill="#f23645"/>
<rect x="1084" y="509" width="4" height="2" fill="#f23645"/>
<rect x="1089" y="503" width="2" height="9" fill="#089981"/>
<rect x="1088" y="505" width="4" height="7" fill="#089981"/>
<rect x="1094" y="462" width="2" height="47" fill="#089981"/>
<rect x="1093" y="487" width="4" height="18" fill="#089981"/>
<rect x="1099" y="483" width="2" height="27" fill="#f23645"/>
<rect x="1098" y="484" width="4" height="26" fill="#f23645"/>
<rect x="1104" y="502" width="2" height="14" fill="#089981"/>
<rect x="1103" y="505" width="4" height="3" fill="#089981"/>
<rect x="1108" y="501" width="2" height="9" fill="#f23645"/>
<rect x="1107" y="503" width="4" height="2" fill="#f23645"/>
<rect x="1113" y="502" width="2" height="24" fill="#f23645"/>
<rect x="1112" y="506" width="4" height="11" fill="#f23645"/>
<rect x="1118" y="511" width="2" height="37" fill="#f23645"/>
<rect x="1117" y="517" width="4" height="15" fill="#f23645"/>
<rect x="1123" y="525" width="2" height="45" fill="#f23645"/>
<rect x="1122" y="532" width="4" height="11" fill="#f23645"/>
<rect x="1127" y="504" width="2" height="53" fill="#089981"/>
<rect x="1126" y="507" width="4" height="35" fill="#089981"/>
<rect x="1132" y="493" width="2" height="20" fill="#089981"/>
<rect x="1131" y="499" width="4" height="8" fill="#089981"/>
<rect x="1137" y="489" width="2" height="15" fill="#f23645"/>
<rect x="1136" y="498" width="4" height="2" fill="#f23645"/>
<rect x="1141" y="496" width="2" height="27" fill="#f23645"/>
<rect x="1140" y="499" width="4" height="23" fill="#f23645"/>
<rect x="1146" y="509" width="2" height="21" fill="#089981"/>
<rect x="1145" y="512" width="4" height="9" fill="#089981"/>
<rect x="1151" y="495" width="2" height="17" fill="#089981"/>
<rect x="1150" y="500" width="4" height="12" fill="#089981"/>
<rect x="1156" y="492" width="2" height="10" fill="#089981"/>
<rect x="1155" y="496" width="4" height="5" fill="#089981"/>
<rect x="1160" y="465" width="2" height="40" fill="#089981"/>
<rect x="1159" y="488" width="4" height="8" fill="#089981"/>
<rect x="1165" y="483" width="2" height="26" fill="#f23645"/>
<rect x="1164" y="487" width="4" height="12" fill="#f23645"/>
<rect x="1170" y="474" width="2" height="31" fill="#089981"/>
<rect x="1169" y="488" width="4" height="17" fill="#089981"/>
<rect x="1175" y="468" width="2" height="22" fill="#089981"/>
<rect x="1174" y="488" width="4" height="2" fill="#089981"/>
<rect x="1179" y="479" width="2" height="17" fill="#f23645"/>
<rect x="1178" y="483" width="4" height="12" fill="#f23645"/>
<rect x="1184" y="488" width="2" height="7" fill="#f23645"/>
<rect x="1183" y="492" width="4" height="2" fill="#f23645"/>
<rect x="1189" y="474" width="2" height="20" fill="#089981"/>
<rect x="1188" y="478" width="4" height="15" fill="#089981"/>
<rect x="1194" y="458" width="2" height="23" fill="#f23645"/>
<rect x="1193" y="477" width="4" height="2" fill="#f23645"/>
<rect x="1198" y="466" width="2" height="17" fill="#089981"/>
<rect x="1197" y="468" width="4" height="11" fill="#089981"/>
<rect x="1203" y="438" width="2" height="32" fill="#089981"/>
<rect x="1202" y="445" width="4" height="25" fill="#089981"/>
<rect x="1208" y="404" width="2" height="42" fill="#089981"/>
<rect x="1207" y="409" width="4" height="37" fill="#089981"/>
<rect x="1213" y="300" width="2" height="117" fill="#089981"/>
<rect x="1212" y="362" width="4" height="48" fill="#089981"/>
<rect x="1217" y="333" width="2" height="45" fill="#089981"/>
<rect x="1216" y="360" width="4" height="2" fill="#089981"/>
<rect x="1222" y="321" width="2" height="41" fill="#089981"/>
<rect x="1221" y="336" width="4" height="26" fill="#089981"/>
<rect x="1227" y="285" width="2" height="53" fill="#089981"/>
<rect x="1226" y="304" width="4" height="34" fill="#089981"/>
<rect x="1232" y="304" width="2" height="39" fill="#f23645"/>
<rect x="1231" y="304" width="4" height="11" fill="#f23645"/>
<rect x="1236" y="268" width="2" height="55" fill="#089981"/>
<rect x="1235" y="284" width="4" height="30" fill="#089981"/>
<rect x="1241" y="154" width="2" height="142" fill="#089981"/>
<rect x="1240" y="171" width="4" height="113" fill="#089981"/>
<rect x="1246" y="124" width="2" height="81" fill="#f23645"/>
<rect x="1245" y="171" width="4" height="17" fill="#f23645"/>
<rect x="1251" y="170" width="2" height="32" fill="#089981"/>
<rect x="1250" y="186" width="4" height="2" fill="#089981"/>
<rect x="1255" y="152" width="2" height="43" fill="#089981"/>
<rect x="1254" y="178" width="4" height="8" fill="#089981"/>
<rect x="1260" y="129" width="2" height="61" fill="#089981"/>
<rect x="1259" y="154" width="4" height="24" fill="#089981"/>
<rect x="1265" y="146" width="2" height="40" fill="#089981"/>
<rect x="1264" y="152" width="4" height="2" fill="#089981"/>
<rect x="1270" y="153" width="2" height="128" fill="#f23645"/>
<rect x="1269" y="153" width="4" height="95" fill="#f23645"/>
<rect x="1274" y="226" width="2" height="78" fill="#f23645"/>
<rect x="1273" y="246" width="4" height="10" fill="#f23645"/>
<rect x="1279" y="252" width="2" height="40" fill="#f23645"/>
<rect x="1278" y="255" width="4" height="2" fill="#f23645"/>
<rect x="1284" y="238" width="2" height="27" fill="#089981"/>
<rect x="1283" y="251" width="4" height="6" fill="#089981"/>
<rect x="1289" y="230" width="2" height="22" fill="#089981"/>
<rect x="1288" y="230" width="4" height="22" fill="#089981"/>
<rect x="1293" y="210" width="2" height="55" fill="#f23645"/>
<rect x="1292" y="232" width="4" height="31" fill="#f23645"/>
<rect x="1298" y="246" width="2" height="34" fill="#089981"/>
<rect x="1297" y="260" width="4" height="2" fill="#089981"/>
<rect x="1303" y="252" width="2" height="40" fill="#f23645"/>
<rect x="1302" y="255" width="4" height="15" fill="#f23645"/>
<rect x="1308" y="248" width="2" height="40" fill="#f23645"/>
<rect x="1307" y="269" width="4" height="19" fill="#f23645"/>
<rect x="1312" y="279" width="2" height="40" fill="#f23645"/>
<rect x="1311" y="287" width="4" height="18" fill="#f23645"/>
<rect x="1317" y="288" width="2" height="71" fill="#f23645"/>
<rect x="1316" y="305" width="4" height="47" fill="#f23645"/>
<rect x="1322" y="303" width="2" height="59" fill="#089981"/>
<rect x="1321" y="305" width="4" height="47" fill="#089981"/>
<rect x="1327" y="271" width="2" height="39" fill="#089981"/>
<rect x="1326" y="275" width="4" height="32" fill="#089981"/>
<rect x="1331" y="267" width="2" height="48" fill="#f23645"/>
<rect x="1330" y="275" width="4" height="29" fill="#f23645"/>
<rect x="1336" y="289" width="2" height="29" fill="#089981"/>
<rect x="1335" y="297" width="4" height="6" fill="#089981"/>
<rect x="1341" y="209" width="2" height="93" fill="#089981"/>
<rect x="1340" y="212" width="4" height="85" fill="#089981"/>
<rect x="1346" y="197" width="2" height="43" fill="#f23645"/>
<rect x="1345" y="212" width="4" height="10" fill="#f23645"/>
<rect x="1350" y="205" width="2" height="34" fill="#f23645"/>
<rect x="1349" y="221" width="4" height="16" fill="#f23645"/>
<rect x="1355" y="223" width="2" height="32" fill="#f23645"/>
<rect x="1354" y="236" width="4" height="11" fill="#f23645"/>
<rect x="1360" y="209" width="2" height="54" fill="#f23645"/>
<rect x="1359" y="246" width="4" height="15" fill="#f23645"/>
<rect x="1364" y="216" width="2" height="50" fill="#089981"/>
<rect x="1363" y="226" width="4" height="35" fill="#089981"/>
<rect x="1369" y="209" width="2" height="33" fill="#089981"/>
<rect x="1368" y="224" width="4" height="2" fill="#089981"/>
<rect x="1374" y="205" width="2" height="89" fill="#f23645"/>
<rect x="1373" y="223" width="4" height="51" fill="#f23645"/>
<rect x="1379" y="257" width="2" height="36" fill="#f23645"/>
<rect x="1378" y="272" width="4" height="2" fill="#f23645"/>
<rect x="1383" y="254" width="2" height="20" fill="#089981"/>
<rect x="1382" y="266" width="4" height="8" fill="#089981"/>
<rect x="1388" y="256" width="2" height="18" fill="#f23645"/>
<rect x="1387" y="266" width="4" height="6" fill="#f23645"/>
<rect x="1393" y="269" width="2" height="39" fill="#f23645"/>
<rect x="1392" y="271" width="4" height="8" fill="#f23645"/>
<rect x="1398" y="273" width="2" height="57" fill="#f23645"/>
<rect x="1397" y="278" width="4" height="52" fill="#f23645"/>
<rect x="1402" y="296" width="2" height="42" fill="#089981"/>
<rect x="1401" y="306" width="4" height="24" fill="#089981"/>
<rect x="1407" y="304" width="2" height="28" fill="#f23645"/>
<rect x="1406" y="306" width="4" height="26" fill="#f23645"/>
<rect x="1412" y="268" width="2" height="80" fill="#089981"/>
<rect x="1411" y="275" width="4" height="57" fill="#089981"/>
<rect x="1417" y="275" width="2" height="25" fill="#f23645"/>
<rect x="1416" y="275" width="4" height="7" fill="#f23645"/>
<rect x="1421" y="261" width="2" height="35" fill="#f23645"/>
<rect x="1420" y="282" width="4" height="6" fill="#f23645"/>
<rect x="1426" y="280" width="2" height="58" fill="#f23645"/>
<rect x="1425" y="287" width="4" height="42" fill="#f23645"/>
<rect x="1431" y="272" width="2" height="59" fill="#089981"/>
<rect x="1430" y="290" width="4" height="41" fill="#089981"/>
<rect x="1436" y="282" width="2" height="20" fill="#f23645"/>
<rect x="1435" y="290" width="4" height="12" fill="#f23645"/>
<rect x="1440" y="288" width="2" height="16" fill="#f23645"/>
<rect x="1439" y="300" width="4" height="2" fill="#f23645"/>
<rect x="1445" y="299" width="2" height="51" fill="#f23645"/>
<rect x="1444" y="303" width="4" height="36" fill="#f23645"/>
<rect x="1450" y="335" width="2" height="18" fill="#f23645"/>
<rect x="1449" y="338" width="4" height="2" fill="#f23645"/>
<rect x="1455" y="327" width="2" height="23" fill="#f23645"/>
<rect x="1454" y="339" width="4" height="11" fill="#f23645"/>
<rect x="1459" y="334" width="2" height="35" fill="#f23645"/>
<rect x="1458" y="350" width="4" height="5" fill="#f23645"/>
<rect x="1464" y="328" width="2" height="28" fill="#089981"/>
<rect x="1463" y="329" width="4" height="27" fill="#089981"/>
<rect x="1469" y="323" width="2" height="17" fill="#f23645"/>
<rect x="1468" y="329" width="4" height="4" fill="#f23645"/>
<rect x="1474" y="329" width="2" height="19" fill="#f23645"/>
<rect x="1473" y="333" width="4" height="13" fill="#f23645"/>
<rect x="1478" y="323" width="2" height="25" fill="#089981"/>
<rect x="1477" y="342" width="4" height="2" fill="#089981"/>
<rect x="1483" y="338" width="2" height="7" fill="#f23645"/>
<rect x="1482" y="340" width="4" height="2" fill="#f23645"/>
<rect x="1488" y="313" width="2" height="29" fill="#089981"/>
<rect x="1487" y="325" width="4" height="17" fill="#089981"/>
<rect x="1493" y="295" width="2" height="32" fill="#089981"/>
<rect x="1492" y="301" width="4" height="24" fill="#089981"/>
<rect x="1497" y="285" width="2" height="24" fill="#f23645"/>
<rect x="1496" y="302" width="4" height="6" fill="#f23645"/>
<rect x="1502" y="286" width="2" height="23" fill="#089981"/>
<rect x="1501" y="298" width="4" height="11" fill="#089981"/>
<rect x="1507" y="282" width="2" height="23" fill="#089981"/>
<rect x="1506" y="284" width="4" height="15" fill="#089981"/>
<rect x="1512" y="259" width="2" height="30" fill="#089981"/>
<rect x="1511" y="268" width="4" height="16" fill="#089981"/>
<rect x="1516" y="247" width="2" height="24" fill="#089981"/>
<rect x="1515" y="264" width="4" height="3" fill="#089981"/>
<rect x="1521" y="262" width="2" height="28" fill="#f23645"/>
<rect x="1520" y="263" width="4" height="23" fill="#f23645"/>
<rect x="1526" y="276" width="2" height="28" fill="#f23645"/>
<rect x="1525" y="286" width="4" height="8" fill="#f23645"/>
<rect x="1531" y="279" width="2" height="23" fill="#089981"/>
<rect x="1530" y="284" width="4" height="10" fill="#089981"/>
<rect x="1535" y="266" width="2" height="31" fill="#089981"/>
<rect x="1534" y="272" width="4" height="12" fill="#089981"/>
<rect x="1540" y="258" width="2" height="20" fill="#f23645"/>
<rect x="1539" y="272" width="4" height="3" fill="#f23645"/>
<rect x="1545" y="270" width="2" height="27" fill="#f23645"/>
<rect x="1544" y="275" width="4" height="22" fill="#f23645"/>
<rect x="1550" y="291" width="2" height="8" fill="#f23645"/>
<rect x="1549" y="295" width="4" height="4" fill="#f23645"/>
<rect x="1554" y="290" width="2" height="13" fill="#f23645"/>
<rect x="1553" y="298" width="4" height="2" fill="#f23645"/>
<rect x="1559" y="299" width="2" height="68" fill="#f23645"/>
<rect x="1558" y="300" width="4" height="32" fill="#f23645"/>
<rect x="1564" y="319" width="2" height="23" fill="#f23645"/>
<rect x="1563" y="332" width="4" height="5" fill="#f23645"/>
<rect x="1569" y="294" width="2" height="51" fill="#089981"/>
<rect x="1568" y="312" width="4" height="26" fill="#089981"/>
<rect x="1573" y="311" width="2" height="52" fill="#f23645"/>
<rect x="1572" y="312" width="4" height="47" fill="#f23645"/>
<rect x="1578" y="341" width="2" height="27" fill="#089981"/>
<rect x="1577" y="348" width="4" height="11" fill="#089981"/>
<rect x="1583" y="336" width="2" height="16" fill="#089981"/>
<rect x="1582" y="344" width="4" height="4" fill="#089981"/>
<rect x="1588" y="327" width="2" height="24" fill="#089981"/>
<rect x="1587" y="328" width="4" height="14" fill="#089981"/>
<rect x="1592" y="312" width="2" height="18" fill="#089981"/>
<rect x="1591" y="323" width="4" height="3" fill="#089981"/>
<rect x="1597" y="317" width="2" height="23" fill="#f23645"/>
<rect x="1596" y="323" width="4" height="13" fill="#f23645"/>
<rect x="1602" y="303" width="2" height="38" fill="#089981"/>
<rect x="1601" y="306" width="4" height="30" fill="#089981"/>
<rect x="1606" y="268" width="2" height="39" fill="#089981"/>
<rect x="1605" y="285" width="4" height="22" fill="#089981"/>
<rect x="1611" y="269" width="2" height="23" fill="#089981"/>
<rect x="1610" y="283" width="4" height="2" fill="#089981"/>
<rect x="1616" y="280" width="2" height="28" fill="#f23645"/>
<rect x="1615" y="281" width="4" height="22" fill="#f23645"/>
<rect x="1621" y="276" width="2" height="30" fill="#089981"/>
<rect x="1620" y="299" width="4" height="2" fill="#089981"/>
<rect x="1625" y="281" width="2" height="23" fill="#089981"/>
<rect x="1624" y="298" width="4" height="3" fill="#089981"/>
<rect x="1630" y="293" width="2" height="38" fill="#f23645"/>
<rect x="1629" y="298" width="4" height="33" fill="#f23645"/>
<rect x="1635" y="313" width="2" height="23" fill="#089981"/>
<rect x="1634" y="324" width="4" height="7" fill="#089981"/>
<rect x="1640" y="325" width="2" height="25" fill="#f23645"/>
<rect x="1639" y="325" width="4" height="18" fill="#f23645"/>
<rect x="1644" y="335" width="2" height="351" fill="#f23645"/>
<rect x="1643" y="344" width="4" height="110" fill="#f23645"/>
<rect x="1649" y="418" width="2" height="61" fill="#089981"/>
<rect x="1648" y="451" width="4" height="3" fill="#089981"/>
<rect x="1654" y="399" width="2" height="68" fill="#089981"/>
<rect x="1653" y="413" width="4" height="38" fill="#089981"/>
<rect x="1659" y="383" width="2" height="31" fill="#089981"/>
<rect x="1658" y="393" width="4" height="21" fill="#089981"/>
<rect x="1663" y="389" width="2" height="59" fill="#f23645"/>
<rect x="1662" y="393" width="4" height="27" fill="#f23645"/>
<rect x="1668" y="408" width="2" height="44" fill="#f23645"/>
<rect x="1667" y="420" width="4" height="23" fill="#f23645"/>
<rect x="1673" y="430" width="2" height="45" fill="#f23645"/>
<rect x="1672" y="443" width="4" height="21" fill="#f23645"/>
<rect x="1678" y="446" width="2" height="52" fill="#f23645"/>
<rect x="1677" y="464" width="4" height="8" fill="#f23645"/>
<rect x="1682" y="448" width="2" height="27" fill="#089981"/>
<rect x="1681" y="456" width="4" height="17" fill="#089981"/>
<rect x="1687" y="441" width="2" height="20" fill="#089981"/>
<rect x="1686" y="448" width="4" height="8" fill="#089981"/>
<rect x="1692" y="407" width="2" height="50" fill="#089981"/>
<rect x="1691" y="421" width="4" height="27" fill="#089981"/>
<rect x="1697" y="412" width="2" height="32" fill="#f23645"/>
<rect x="1696" y="421" width="4" height="19" fill="#f23645"/>
<rect x="1701" y="436" width="2" height="29" fill="#f23645"/>
<rect x="1700" y="440" width="4" height="15" fill="#f23645"/>
<rect x="1706" y="440" width="2" height="15" fill="#089981"/>
<rect x="1705" y="447" width="4" height="8" fill="#089981"/>
<rect x="1711" y="417" width="2" height="31" fill="#089981"/>
<rect x="1710" y="418" width="4" height="30" fill="#089981"/>
<rect x="1716" y="382" width="2" height="38" fill="#089981"/>
<rect x="1715" y="396" width="4" height="23" fill="#089981"/>
<rect x="1720" y="379" width="2" height="18" fill="#089981"/>
<rect x="1719" y="384" width="4" height="12" fill="#089981"/>
<rect x="1725" y="374" width="2" height="20" fill="#f23645"/>
<rect x="1724" y="384" width="4" height="3" fill="#f23645"/>
<rect x="1730" y="374" width="2" height="29" fill="#f23645"/>
<rect x="1729" y="388" width="4" height="6" fill="#f23645"/>
<rect x="1735" y="379" width="2" height="31" fill="#f23645"/>
<rect x="1734" y="394" width="4" height="15" fill="#f23645"/>
<rect x="1739" y="397" width="2" height="54" fill="#f23645"/>
<rect x="1738" y="407" width="4" height="29" fill="#f23645"/>
<rect x="1744" y="407" width="2" height="30" fill="#089981"/>
<rect x="1743" y="418" width="4" height="18" fill="#089981"/>
<rect x="1749" y="416" width="2" height="16" fill="#f23645"/>
<rect x="1748" y="417" width="4" height="2" fill="#f23645"/>
<rect x="1754" y="407" width="2" height="18" fill="#089981"/>
<rect x="1753" y="414" width="4" height="5" fill="#089981"/>
<rect x="1758" y="412" width="2" height="68" fill="#f23645"/>
<rect x="1757" y="413" width="4" height="56" fill="#f23645"/>
<rect x="1763" y="456" width="2" height="73" fill="#f23645"/>
<rect x="1762" y="469" width="4" height="26" fill="#f23645"/>
<rect x="1768" y="453" width="2" height="68" fill="#089981"/>
<rect x="1767" y="460" width="4" height="35" fill="#089981"/>
<rect x="1773" y="442" width="2" height="59" fill="#f23645"/>
<rect x="1772" y="460" width="4" height="35" fill="#f23645"/>
<rect x="1777" y="453" width="2" height="54" fill="#089981"/>
<rect x="1776" y="468" width="4" height="27" fill="#089981"/>
<rect x="1782" y="462" width="2" height="23" fill="#f23645"/>
<rect x="1781" y="468" width="4" height="7" fill="#f23645"/>
<rect x="1787" y="448" width="2" height="38" fill="#089981"/>
<rect x="1786" y="456" width="4" height="19" fill="#089981"/>
<rect x="1792" y="400" width="2" height="59" fill="#089981"/>
<rect x="1791" y="414" width="4" height="42" fill="#089981"/>
<rect x="1796" y="406" width="2" height="44" fill="#f23645"/>
<rect x="1795" y="414" width="4" height="35" fill="#f23645"/>
<rect x="1801" y="434" width="2" height="33" fill="#f23645"/>
<rect x="1800" y="447" width="4" height="2" fill="#f23645"/>
<rect x="1806" y="414" width="2" height="62" fill="#f23645"/>
<rect x="1805" y="449" width="4" height="18" fill="#f23645"/>
<rect x="1811" y="462" width="2" height="28" fill="#f23645"/>
<rect x="1810" y="467" width="4" height="20" fill="#f23645"/>
<rect x="1815" y="471" width="2" height="23" fill="#f23645"/>
<rect x="1814" y="486" width="4" height="3" fill="#f23645"/>
<rect x="1820" y="477" width="2" height="30" fill="#f23645"/>
<rect x="1819" y="489" width="4" height="4" fill="#f23645"/>
<rect x="1825" y="470" width="2" height="48" fill="#f23645"/>
<rect x="1824" y="493" width="4" height="13" fill="#f23645"/>
<rect x="1830" y="486" width="2" height="33" fill="#089981"/>
<rect x="1829" y="492" width="4" height="14" fill="#089981"/>
<rect x="1834" y="492" width="2" height="48" fill="#f23645"/>
<rect x="1833" y="492" width="4" height="29" fill="#f23645"/>
<rect x="1839" y="510" width="2" height="44" fill="#f23645"/>
<rect x="1838" y="520" width="4" height="28" fill="#f23645"/>
<rect x="1844" y="542" width="2" height="44" fill="#f23645"/>
<rect x="1843" y="548" width="4" height="23" fill="#f23645"/>
<line x1="1246.8" y1="125.1" x2="2091.2" y2="462.3" stroke="#131722" stroke-width="4" stroke-linecap="round"/>
<line x1="450" y1="547" x2="2299" y2="547" stroke="#000" stroke-width="4" stroke-dasharray="4 8"/>
<line x1="597" y1="645" x2="2299" y2="645" stroke="#000" stroke-width="4" stroke-dasharray="4 8"/>
<line x1="1641" y1="686" x2="2299" y2="686" stroke="#000" stroke-width="4" stroke-dasharray="4 8"/>
<line x1="1" y1="571" x2="2299" y2="571" stroke="#f23645" stroke-width="2" stroke-dasharray="2 4"/>
</g>
<g clip-path="url(#cr)">
<line x1="-21.2" y1="898.0" x2="2299" y2="898.0" stroke="#787b86" stroke-width="2" stroke-dasharray="10 12"/>
<line x1="-21.2" y1="948.0" x2="2299" y2="948.0" stroke="#787b86" stroke-width="2" stroke-dasharray="10 12"/>
<line x1="-21.2" y1="998.0" x2="2299" y2="998.0" stroke="#787b86" stroke-width="2" stroke-dasharray="10 12"/>
<polyline points="-25.0,980.8 -20.0,961.1 -15.0,961.1 -11.0,959.8 -6.0,959.8 -1.0,968.1 4.0,958.2 8.0,961.1 13.0,973.8 18.0,969.4 23.0,971.8 27.0,977.7 32.0,978.1 37.0,965.5 42.0,932.0 46.0,920.8 51.0,923.2 56.0,919.0 61.0,903.0 65.0,884.2 70.0,864.4 75.0,875.0 80.0,860.5 84.0,849.0 89.0,837.5 94.0,865.2 99.0,861.0 103.0,866.1 108.0,865.5 113.0,856.2 118.0,847.2 122.0,848.4 127.0,860.0 132.0,865.8 137.0,869.4 141.0,864.8 146.0,860.7 151.0,850.2 156.0,846.2 160.0,840.0 165.0,835.5 170.0,865.0 174.0,882.9 179.0,895.7 184.0,888.3 189.0,881.7 193.0,882.5 198.0,919.8 203.0,912.4 208.0,911.4 212.0,916.2 217.0,911.7 222.0,914.0 227.0,911.3 231.0,909.2 236.0,904.5 241.0,930.6 246.0,936.9 250.0,934.1 255.0,938.2 260.0,941.8 265.0,936.4 269.0,931.1 274.0,933.8 279.0,949.0 284.0,950.0 288.0,945.8 293.0,955.6 298.0,959.5 303.0,956.0 307.0,929.7 312.0,923.5 317.0,919.2 322.0,922.9 326.0,926.5 331.0,924.3 336.0,944.7 341.0,933.5 345.0,945.7 350.0,938.3 355.0,917.0 360.0,926.5 364.0,924.9 369.0,912.8 374.0,886.9 379.0,883.1 383.0,881.2 388.0,883.6 393.0,919.2 398.0,910.9 402.0,907.3 407.0,906.8 412.0,913.4 416.0,915.0 421.0,914.7 426.0,925.4 431.0,922.5 435.0,922.1 440.0,921.4 445.0,915.9 450.0,929.1 454.0,949.1 459.0,975.9 464.0,962.5 469.0,975.3 473.0,985.2 478.0,988.3 483.0,980.1 488.0,977.8 492.0,972.6 497.0,975.6 502.0,976.1 507.0,968.3 511.0,952.6 516.0,938.2 521.0,936.3 526.0,939.7 530.0,948.6 535.0,959.2 540.0,938.9 545.0,944.6 549.0,957.5 554.0,955.9 559.0,955.9 564.0,983.5 568.0,977.5 573.0,987.1 578.0,986.4 583.0,990.8 587.0,983.4 592.0,916.6 597.0,955.6 602.0,951.7 606.0,948.2 611.0,942.5 616.0,956.0 621.0,959.5 625.0,970.2 630.0,977.0 635.0,964.2 640.0,959.0 644.0,954.4 649.0,950.8 654.0,948.4 658.0,955.1 663.0,951.8 668.0,955.0 673.0,935.5 677.0,946.0 682.0,948.9 687.0,949.7 692.0,943.7 696.0,942.9 701.0,944.6 706.0,952.5 711.0,954.2 715.0,967.2 720.0,973.2 725.0,964.6 730.0,974.8 734.0,967.7 739.0,978.3 744.0,972.7 749.0,964.0 753.0,961.9 758.0,981.9 763.0,983.5 768.0,991.1 772.0,959.8 777.0,968.5 782.0,960.3 787.0,946.9 791.0,950.9 796.0,950.3 801.0,954.1 806.0,954.2 810.0,956.4 815.0,956.3 820.0,953.4 825.0,954.2 829.0,953.3 834.0,935.1 839.0,933.5 844.0,936.2 848.0,938.5 853.0,936.4 858.0,928.5 863.0,922.4 867.0,933.7 872.0,942.9 877.0,940.2 882.0,942.8 886.0,945.2 891.0,951.5 896.0,957.7 900.0,951.8 905.0,958.9 910.0,919.2 915.0,917.0 919.0,900.7 924.0,924.6 929.0,904.5 934.0,901.5 938.0,907.6 943.0,935.5 948.0,935.5 953.0,940.1 957.0,930.7 962.0,938.4 967.0,942.3 972.0,936.4 976.0,929.4 981.0,949.8 986.0,949.0 991.0,947.2 995.0,951.3 1000.0,950.5 1005.0,958.8 1010.0,964.2 1014.0,980.4 1019.0,972.8 1024.0,969.8 1029.0,966.8 1033.0,956.1 1038.0,964.4 1043.0,980.7 1048.0,966.2 1052.0,961.8 1057.0,945.5 1062.0,935.3 1067.0,938.5 1071.0,946.3 1076.0,960.4 1081.0,967.5 1086.0,967.1 1090.0,962.3 1095.0,947.0 1100.0,963.6 1105.0,959.3 1109.0,958.7 1114.0,968.3 1119.0,978.0 1124.0,984.1 1128.0,953.0 1133.0,947.2 1138.0,947.6 1142.0,963.4 1147.0,955.6 1152.0,946.4 1157.0,943.4 1161.0,937.4 1166.0,946.7 1171.0,938.7 1176.0,937.9 1180.0,944.6 1185.0,943.7 1190.0,930.4 1195.0,931.5 1199.0,922.5 1204.0,907.3 1209.0,890.1 1214.0,874.8 1218.0,874.5 1223.0,868.5 1228.0,861.9 1233.0,872.0 1237.0,865.6 1242.0,851.0 1247.0,862.7 1252.0,862.4 1256.0,861.3 1261.0,858.2 1266.0,857.8 1271.0,916.9 1275.0,920.9 1280.0,921.1 1285.0,919.2 1290.0,912.5 1294.0,929.6 1299.0,928.6 1304.0,933.5 1309.0,943.2 1313.0,950.9 1318.0,970.2 1323.0,948.8 1328.0,937.6 1332.0,949.2 1337.0,946.3 1342.0,918.9 1347.0,922.9 1351.0,929.5 1356.0,933.6 1361.0,939.9 1365.0,927.7 1370.0,927.0 1375.0,948.1 1380.0,948.0 1384.0,945.1 1389.0,947.4 1394.0,950.8 1399.0,971.1 1403.0,959.9 1408.0,969.1 1413.0,944.9 1418.0,947.6 1422.0,950.0 1427.0,965.6 1432.0,949.3 1437.0,953.9 1441.0,953.7 1446.0,967.6 1451.0,967.4 1456.0,971.4 1460.0,973.2 1465.0,959.2 1470.0,961.2 1475.0,966.8 1479.0,963.9 1484.0,963.6 1489.0,954.0 1494.0,940.7 1498.0,944.4 1503.0,939.3 1508.0,931.5 1513.0,923.5 1517.0,921.7 1522.0,937.6 1527.0,942.6 1532.0,936.8 1536.0,930.0 1541.0,932.1 1546.0,947.6 1551.0,949.4 1555.0,949.4 1560.0,970.3 1565.0,973.3 1570.0,954.2 1574.0,978.5 1579.0,970.9 1584.0,967.9 1589.0,956.8 1593.0,954.1 1598.0,961.5 1603.0,942.2 1607.0,930.7 1612.0,929.7 1617.0,943.4 1622.0,941.1 1626.0,940.5 1631.0,961.5 1636.0,956.8 1641.0,967.4 1645.0,1006.5 1650.0,1004.6 1655.0,981.7 1660.0,970.9 1664.0,980.0 1669.0,987.1 1674.0,993.1 1679.0,995.3 1683.0,985.5 1688.0,981.0 1693.0,965.7 1698.0,973.0 1702.0,978.5 1707.0,973.7 1712.0,957.5 1717.0,947.0 1721.0,941.4 1726.0,942.9 1731.0,946.7 1736.0,954.4 1740.0,967.6 1745.0,957.2 1750.0,956.8 1755.0,954.4 1759.0,979.8 1764.0,988.9 1769.0,968.1 1774.0,980.3 1778.0,966.7 1783.0,969.1 1788.0,959.2 1793.0,940.8 1797.0,955.2 1802.0,955.2 1807.0,962.3 1812.0,970.0 1816.0,970.6 1821.0,972.3 1826.0,977.7 1831.0,968.7 1835.0,980.3 1840.0,989.6 1845.0,996.5" fill="none" stroke="#9c55c6" stroke-width="2" stroke-linejoin="round" stroke-linecap="round"/>
</g>
<g clip-path="url(#cd)">
<rect x="-26" y="1176" width="2" height="3" fill="#ffcdd2"/>
<rect x="-21" y="1176" width="2" height="2" fill="#ffcdd2"/>
<rect x="-16" y="1176" width="2" height="1" fill="#ffcdd2"/>
<rect x="-12" y="1176" width="2" height="1" fill="#ffcdd2"/>
<rect x="-7" y="1176" width="2" height="1" fill="#ffcdd2"/>
<rect x="-2" y="1176" width="2" height="1" fill="#ffcdd2"/>
<rect x="3" y="1176" width="2" height="1" fill="#ffcdd2"/>
<rect x="7" y="1176" width="2" height="1" fill="#ffcdd2"/>
<rect x="12" y="1176" width="2" height="1" fill="#ff5252"/>
<rect x="17" y="1176" width="2" height="1" fill="#ffcdd2"/>
<rect x="22" y="1176" width="2" height="1" fill="#ff5252"/>
<rect x="26" y="1176" width="2" height="1" fill="#ff5252"/>
<rect x="31" y="1176" width="2" height="1" fill="#ff5252"/>
<rect x="36" y="1176" width="2" height="1" fill="#ffcdd2"/>
<rect x="41" y="1175" width="2" height="1" fill="#089981"/>
<rect x="45" y="1175" width="2" height="1" fill="#089981"/>
<rect x="50" y="1175" width="2" height="1" fill="#089981"/>
<rect x="55" y="1174" width="2" height="2" fill="#089981"/>
<rect x="60" y="1174" width="2" height="2" fill="#089981"/>
<rect x="64" y="1173" width="2" height="3" fill="#089981"/>
<rect x="69" y="1172" width="2" height="4" fill="#089981"/>
<rect x="74" y="1171" width="2" height="5" fill="#089981"/>
<rect x="79" y="1170" width="2" height="6" fill="#089981"/>
<rect x="83" y="1167" width="2" height="9" fill="#089981"/>
<rect x="88" y="1162" width="2" height="14" fill="#089981"/>
<rect x="93" y="1160" width="2" height="16" fill="#089981"/>
<rect x="98" y="1159" width="2" height="17" fill="#089981"/>
<rect x="102" y="1160" width="2" height="16" fill="#b2dfdb"/>
<rect x="107" y="1161" width="2" height="15" fill="#b2dfdb"/>
<rect x="112" y="1160" width="2" height="16" fill="#089981"/>
<rect x="117" y="1157" width="2" height="19" fill="#089981"/>
<rect x="121" y="1156" width="2" height="20" fill="#089981"/>
<rect x="126" y="1158" width="2" height="18" fill="#b2dfdb"/>
<rect x="131" y="1160" width="2" height="16" fill="#b2dfdb"/>
<rect x="136" y="1164" width="2" height="12" fill="#b2dfdb"/>
<rect x="140" y="1165" width="2" height="11" fill="#b2dfdb"/>
<rect x="145" y="1166" width="2" height="10" fill="#b2dfdb"/>
<rect x="150" y="1163" width="2" height="13" fill="#089981"/>
<rect x="155" y="1159" width="2" height="17" fill="#089981"/>
<rect x="159" y="1152" width="2" height="24" fill="#089981"/>
<rect x="164" y="1142" width="2" height="34" fill="#089981"/>
<rect x="169" y="1142" width="2" height="34" fill="#089981"/>
<rect x="173" y="1147" width="2" height="29" fill="#b2dfdb"/>
<rect x="178" y="1155" width="2" height="21" fill="#b2dfdb"/>
<rect x="183" y="1158" width="2" height="18" fill="#b2dfdb"/>
<rect x="188" y="1159" width="2" height="17" fill="#b2dfdb"/>
<rect x="192" y="1161" width="2" height="15" fill="#b2dfdb"/>
<rect x="197" y="1172" width="2" height="4" fill="#b2dfdb"/>
<rect x="202" y="1176" width="2" height="1" fill="#ff5252"/>
<rect x="207" y="1176" width="2" height="5" fill="#ff5252"/>
<rect x="211" y="1176" width="2" height="9" fill="#ff5252"/>
<rect x="216" y="1176" width="2" height="10" fill="#ff5252"/>
<rect x="221" y="1176" width="2" height="12" fill="#ff5252"/>
<rect x="226" y="1176" width="2" height="13" fill="#ff5252"/>
<rect x="230" y="1176" width="2" height="13" fill="#ffcdd2"/>
<rect x="235" y="1176" width="2" height="11" fill="#ffcdd2"/>
<rect x="240" y="1176" width="2" height="15" fill="#ff5252"/>
<rect x="245" y="1176" width="2" height="19" fill="#ff5252"/>
<rect x="249" y="1176" width="2" height="21" fill="#ff5252"/>
<rect x="254" y="1176" width="2" height="22" fill="#ff5252"/>
<rect x="259" y="1176" width="2" height="23" fill="#ff5252"/>
<rect x="264" y="1176" width="2" height="22" fill="#ffcdd2"/>
<rect x="268" y="1176" width="2" height="20" fill="#ffcdd2"/>
<rect x="273" y="1176" width="2" height="18" fill="#ffcdd2"/>
<rect x="278" y="1176" width="2" height="19" fill="#ff5252"/>
<rect x="283" y="1176" width="2" height="20" fill="#ff5252"/>
<rect x="287" y="1176" width="2" height="19" fill="#ffcdd2"/>
<rect x="292" y="1176" width="2" height="19" fill="#ff5252"/>
<rect x="297" y="1176" width="2" height="19" fill="#ff5252"/>
<rect x="302" y="1176" width="2" height="18" fill="#ffcdd2"/>
<rect x="306" y="1176" width="2" height="12" fill="#ffcdd2"/>
<rect x="311" y="1176" width="2" height="7" fill="#ffcdd2"/>
<rect x="316" y="1176" width="2" height="2" fill="#ffcdd2"/>
<rect x="321" y="1176" width="2" height="1" fill="#089981"/>
<rect x="325" y="1175" width="2" height="1" fill="#089981"/>
<rect x="330" y="1175" width="2" height="1" fill="#089981"/>
<rect x="335" y="1176" width="2" height="1" fill="#ff5252"/>
<rect x="340" y="1176" width="2" height="1" fill="#ffcdd2"/>
<rect x="344" y="1176" width="2" height="3" fill="#ff5252"/>
<rect x="349" y="1176" width="2" height="3" fill="#ffcdd2"/>
<rect x="354" y="1174" width="2" height="2" fill="#089981"/>
<rect x="359" y="1173" width="2" height="3" fill="#089981"/>
<rect x="363" y="1173" width="2" height="3" fill="#089981"/>
<rect x="368" y="1170" width="2" height="6" fill="#089981"/>
<rect x="373" y="1160" width="2" height="16" fill="#089981"/>
<rect x="378" y="1153" width="2" height="23" fill="#089981"/>
<rect x="382" y="1149" width="2" height="27" fill="#089981"/>
<rect x="387" y="1149" width="2" height="27" fill="#089981"/>
<rect x="392" y="1156" width="2" height="20" fill="#b2dfdb"/>
<rect x="397" y="1160" width="2" height="16" fill="#b2dfdb"/>
<rect x="401" y="1162" width="2" height="14" fill="#b2dfdb"/>
<rect x="406" y="1165" width="2" height="11" fill="#b2dfdb"/>
<rect x="411" y="1168" width="2" height="8" fill="#b2dfdb"/>
<rect x="415" y="1172" width="2" height="4" fill="#b2dfdb"/>
<rect x="420" y="1175" width="2" height="1" fill="#b2dfdb"/>
<rect x="425" y="1176" width="2" height="3" fill="#ff5252"/>
<rect x="430" y="1176" width="2" height="5" fill="#ff5252"/>
<rect x="434" y="1176" width="2" height="7" fill="#ff5252"/>
<rect x="439" y="1176" width="2" height="8" fill="#ff5252"/>
<rect x="444" y="1176" width="2" height="8" fill="#ffcdd2"/>
<rect x="449" y="1176" width="2" height="9" fill="#ff5252"/>
<rect x="453" y="1176" width="2" height="13" fill="#ff5252"/>
<rect x="458" y="1176" width="2" height="21" fill="#ff5252"/>
<rect x="463" y="1176" width="2" height="23" fill="#ff5252"/>
<rect x="468" y="1176" width="2" height="26" fill="#ff5252"/>
<rect x="472" y="1176" width="2" height="30" fill="#ff5252"/>
<rect x="477" y="1176" width="2" height="32" fill="#ff5252"/>
<rect x="482" y="1176" width="2" height="31" fill="#ffcdd2"/>
<rect x="487" y="1176" width="2" height="28" fill="#ffcdd2"/>
<rect x="491" y="1176" width="2" height="24" fill="#ffcdd2"/>
<rect x="496" y="1176" width="2" height="21" fill="#ffcdd2"/>
<rect x="501" y="1176" width="2" height="18" fill="#ffcdd2"/>
<rect x="506" y="1176" width="2" height="14" fill="#ffcdd2"/>
<rect x="510" y="1176" width="2" height="8" fill="#ffcdd2"/>
<rect x="515" y="1176" width="2" height="1" fill="#ffcdd2"/>
<rect x="520" y="1172" width="2" height="4" fill="#089981"/>
<rect x="525" y="1170" width="2" height="6" fill="#089981"/>
<rect x="529" y="1170" width="2" height="6" fill="#089981"/>
<rect x="534" y="1172" width="2" height="4" fill="#b2dfdb"/>
<rect x="539" y="1170" width="2" height="6" fill="#089981"/>
<rect x="544" y="1170" width="2" height="6" fill="#089981"/>
<rect x="548" y="1172" width="2" height="4" fill="#b2dfdb"/>
<rect x="553" y="1173" width="2" height="3" fill="#b2dfdb"/>
<rect x="558" y="1174" width="2" height="2" fill="#b2dfdb"/>
<rect x="563" y="1176" width="2" height="4" fill="#ff5252"/>
<rect x="567" y="1176" width="2" height="7" fill="#ff5252"/>
<rect x="572" y="1176" width="2" height="11" fill="#ff5252"/>
<rect x="577" y="1176" width="2" height="12" fill="#ff5252"/>
<rect x="582" y="1176" width="2" height="13" fill="#ff5252"/>
<rect x="586" y="1176" width="2" height="12" fill="#ffcdd2"/>
<rect x="591" y="1173" width="2" height="3" fill="#089981"/>
<rect x="596" y="1173" width="2" height="3" fill="#b2dfdb"/>
<rect x="601" y="1173" width="2" height="3" fill="#089981"/>
<rect x="605" y="1171" width="2" height="5" fill="#089981"/>
<rect x="610" y="1168" width="2" height="8" fill="#089981"/>
<rect x="615" y="1171" width="2" height="5" fill="#b2dfdb"/>
<rect x="620" y="1174" width="2" height="2" fill="#b2dfdb"/>
<rect x="624" y="1176" width="2" height="3" fill="#ff5252"/>
<rect x="629" y="1176" width="2" height="8" fill="#ff5252"/>
<rect x="634" y="1176" width="2" height="8" fill="#ffcdd2"/>
<rect x="639" y="1176" width="2" height="6" fill="#ffcdd2"/>
<rect x="643" y="1176" width="2" height="3" fill="#ffcdd2"/>
<rect x="648" y="1176" width="2" height="1" fill="#089981"/>
<rect x="653" y="1173" width="2" height="3" fill="#089981"/>
<rect x="657" y="1173" width="2" height="3" fill="#089981"/>
<rect x="662" y="1172" width="2" height="4" fill="#089981"/>
<rect x="667" y="1172" width="2" height="4" fill="#b2dfdb"/>
<rect x="672" y="1168" width="2" height="8" fill="#089981"/>
<rect x="676" y="1168" width="2" height="8" fill="#089981"/>
<rect x="681" y="1169" width="2" height="7" fill="#b2dfdb"/>
<rect x="686" y="1170" width="2" height="6" fill="#b2dfdb"/>
<rect x="691" y="1169" width="2" height="7" fill="#089981"/>
<rect x="695" y="1169" width="2" height="7" fill="#089981"/>
<rect x="700" y="1169" width="2" height="7" fill="#b2dfdb"/>
<rect x="705" y="1171" width="2" height="5" fill="#b2dfdb"/>
<rect x="710" y="1173" width="2" height="3" fill="#b2dfdb"/>
<rect x="714" y="1176" width="2" height="1" fill="#ff5252"/>
<rect x="719" y="1176" width="2" height="4" fill="#ff5252"/>
<rect x="724" y="1176" width="2" height="5" fill="#ff5252"/>
<rect x="729" y="1176" width="2" height="7" fill="#ff5252"/>
<rect x="733" y="1176" width="2" height="7" fill="#ffcdd2"/>
<rect x="738" y="1176" width="2" height="9" fill="#ff5252"/>
<rect x="743" y="1176" width="2" height="8" fill="#ffcdd2"/>
<rect x="748" y="1176" width="2" height="6" fill="#ffcdd2"/>
<rect x="752" y="1176" width="2" height="4" fill="#ffcdd2"/>
<rect x="757" y="1176" width="2" height="7" fill="#ff5252"/>
<rect x="762" y="1176" width="2" height="8" fill="#ff5252"/>
<rect x="767" y="1176" width="2" height="10" fill="#ff5252"/>
<rect x="771" y="1176" width="2" height="6" fill="#ffcdd2"/>
<rect x="776" y="1176" width="2" height="5" fill="#ffcdd2"/>
<rect x="781" y="1176" width="2" height="2" fill="#ffcdd2"/>
<rect x="786" y="1174" width="2" height="2" fill="#089981"/>
<rect x="790" y="1172" width="2" height="4" fill="#089981"/>
<rect x="795" y="1170" width="2" height="6" fill="#089981"/>
<rect x="800" y="1170" width="2" height="6" fill="#089981"/>
<rect x="805" y="1170" width="2" height="6" fill="#b2dfdb"/>
<rect x="809" y="1170" width="2" height="6" fill="#b2dfdb"/>
<rect x="814" y="1171" width="2" height="5" fill="#b2dfdb"/>
<rect x="819" y="1171" width="2" height="5" fill="#089981"/>
<rect x="824" y="1171" width="2" height="5" fill="#b2dfdb"/>
<rect x="828" y="1171" width="2" height="5" fill="#b2dfdb"/>
<rect x="833" y="1169" width="2" height="7" fill="#089981"/>
<rect x="838" y="1168" width="2" height="8" fill="#089981"/>
<rect x="843" y="1168" width="2" height="8" fill="#089981"/>
<rect x="847" y="1168" width="2" height="8" fill="#b2dfdb"/>
<rect x="852" y="1168" width="2" height="8" fill="#b2dfdb"/>
<rect x="857" y="1168" width="2" height="8" fill="#089981"/>
<rect x="862" y="1168" width="2" height="8" fill="#089981"/>
<rect x="866" y="1169" width="2" height="7" fill="#b2dfdb"/>
<rect x="871" y="1171" width="2" height="5" fill="#b2dfdb"/>
<rect x="876" y="1172" width="2" height="4" fill="#b2dfdb"/>
<rect x="881" y="1173" width="2" height="3" fill="#b2dfdb"/>
<rect x="885" y="1174" width="2" height="2" fill="#b2dfdb"/>
<rect x="890" y="1175" width="2" height="1" fill="#b2dfdb"/>
<rect x="895" y="1176" width="2" height="1" fill="#ff5252"/>
<rect x="899" y="1176" width="2" height="1" fill="#ff5252"/>
<rect x="904" y="1176" width="2" height="2" fill="#ff5252"/>
<rect x="909" y="1175" width="2" height="1" fill="#089981"/>
<rect x="914" y="1173" width="2" height="3" fill="#089981"/>
<rect x="918" y="1169" width="2" height="7" fill="#089981"/>
<rect x="923" y="1169" width="2" height="7" fill="#b2dfdb"/>
<rect x="928" y="1166" width="2" height="10" fill="#089981"/>
<rect x="933" y="1165" width="2" height="11" fill="#089981"/>
<rect x="937" y="1165" width="2" height="11" fill="#b2dfdb"/>
<rect x="942" y="1169" width="2" height="7" fill="#b2dfdb"/>
<rect x="947" y="1172" width="2" height="4" fill="#b2dfdb"/>
<rect x="952" y="1174" width="2" height="2" fill="#b2dfdb"/>
<rect x="956" y="1175" width="2" height="1" fill="#b2dfdb"/>
<rect x="961" y="1176" width="2" height="1" fill="#ff5252"/>
<rect x="966" y="1176" width="2" height="2" fill="#ff5252"/>
<rect x="971" y="1176" width="2" height="2" fill="#ff5252"/>
<rect x="975" y="1176" width="2" height="2" fill="#ffcdd2"/>
<rect x="980" y="1176" width="2" height="4" fill="#ff5252"/>
<rect x="985" y="1176" width="2" height="5" fill="#ff5252"/>
<rect x="990" y="1176" width="2" height="5" fill="#ff5252"/>
<rect x="994" y="1176" width="2" height="6" fill="#ff5252"/>
<rect x="999" y="1176" width="2" height="6" fill="#ff5252"/>
<rect x="1004" y="1176" width="2" height="6" fill="#ff5252"/>
<rect x="1009" y="1176" width="2" height="7" fill="#ff5252"/>
<rect x="1013" y="1176" width="2" height="9" fill="#ff5252"/>
<rect x="1018" y="1176" width="2" height="9" fill="#ff5252"/>
<rect x="1023" y="1176" width="2" height="9" fill="#ffcdd2"/>
<rect x="1028" y="1176" width="2" height="8" fill="#ffcdd2"/>
<rect x="1032" y="1176" width="2" height="6" fill="#ffcdd2"/>
<rect x="1037" y="1176" width="2" height="5" fill="#ffcdd2"/>
<rect x="1042" y="1176" width="2" height="6" fill="#ff5252"/>
<rect x="1047" y="1176" width="2" height="6" fill="#ffcdd2"/>
<rect x="1051" y="1176" width="2" height="4" fill="#ffcdd2"/>
<rect x="1056" y="1176" width="2" height="2" fill="#ffcdd2"/>
<rect x="1061" y="1175" width="2" height="1" fill="#089981"/>
<rect x="1066" y="1173" width="2" height="3" fill="#089981"/>
<rect x="1070" y="1173" width="2" height="3" fill="#089981"/>
<rect x="1075" y="1174" width="2" height="2" fill="#b2dfdb"/>
<rect x="1080" y="1176" width="2" height="1" fill="#ff5252"/>
<rect x="1085" y="1176" width="2" height="1" fill="#ff5252"/>
<rect x="1089" y="1176" width="2" height="1" fill="#ff5252"/>
<rect x="1094" y="1176" width="2" height="1" fill="#089981"/>
<rect x="1099" y="1176" width="2" height="1" fill="#ff5252"/>
<rect x="1104" y="1176" width="2" height="1" fill="#ff5252"/>
<rect x="1108" y="1176" width="2" height="1" fill="#ffcdd2"/>
<rect x="1113" y="1176" width="2" height="1" fill="#ff5252"/>
<rect x="1118" y="1176" width="2" height="3" fill="#ff5252"/>
<rect x="1123" y="1176" width="2" height="4" fill="#ff5252"/>
<rect x="1127" y="1176" width="2" height="2" fill="#ffcdd2"/>
<rect x="1132" y="1176" width="2" height="1" fill="#ffcdd2"/>
<rect x="1137" y="1175" width="2" height="1" fill="#089981"/>
<rect x="1141" y="1176" width="2" height="1" fill="#b2dfdb"/>
<rect x="1146" y="1175" width="2" height="1" fill="#089981"/>
<rect x="1151" y="1174" width="2" height="2" fill="#089981"/>
<rect x="1156" y="1173" width="2" height="3" fill="#089981"/>
<rect x="1160" y="1172" width="2" height="4" fill="#089981"/>
<rect x="1165" y="1172" width="2" height="4" fill="#b2dfdb"/>
<rect x="1170" y="1172" width="2" height="4" fill="#089981"/>
<rect x="1175" y="1172" width="2" height="4" fill="#089981"/>
<rect x="1179" y="1172" width="2" height="4" fill="#b2dfdb"/>
<rect x="1184" y="1173" width="2" height="3" fill="#b2dfdb"/>
<rect x="1189" y="1172" width="2" height="4" fill="#089981"/>
<rect x="1194" y="1172" width="2" height="4" fill="#089981"/>
<rect x="1198" y="1171" width="2" height="5" fill="#089981"/>
<rect x="1203" y="1169" width="2" height="7" fill="#089981"/>
<rect x="1208" y="1166" width="2" height="10" fill="#089981"/>
<rect x="1213" y="1161" width="2" height="15" fill="#089981"/>
<rect x="1217" y="1159" width="2" height="17" fill="#089981"/>
<rect x="1222" y="1156" width="2" height="20" fill="#089981"/>
<rect x="1227" y="1154" width="2" height="22" fill="#089981"/>
<rect x="1232" y="1155" width="2" height="21" fill="#b2dfdb"/>
<rect x="1236" y="1154" width="2" height="22" fill="#089981"/>
<rect x="1241" y="1147" width="2" height="29" fill="#089981"/>
<rect x="1246" y="1146" width="2" height="30" fill="#089981"/>
<rect x="1251" y="1147" width="2" height="29" fill="#b2dfdb"/>
<rect x="1255" y="1149" width="2" height="27" fill="#b2dfdb"/>
<rect x="1260" y="1151" width="2" height="25" fill="#b2dfdb"/>
<rect x="1265" y="1153" width="2" height="23" fill="#b2dfdb"/>
<rect x="1270" y="1164" width="2" height="12" fill="#b2dfdb"/>
<rect x="1274" y="1173" width="2" height="3" fill="#b2dfdb"/>
<rect x="1279" y="1176" width="2" height="3" fill="#ff5252"/>
<rect x="1284" y="1176" width="2" height="7" fill="#ff5252"/>
<rect x="1289" y="1176" width="2" height="8" fill="#ff5252"/>
<rect x="1293" y="1176" width="2" height="12" fill="#ff5252"/>
<rect x="1298" y="1176" width="2" height="14" fill="#ff5252"/>
<rect x="1303" y="1176" width="2" height="16" fill="#ff5252"/>
<rect x="1308" y="1176" width="2" height="18" fill="#ff5252"/>
<rect x="1312" y="1176" width="2" height="20" fill="#ff5252"/>
<rect x="1317" y="1176" width="2" height="24" fill="#ff5252"/>
<rect x="1322" y="1176" width="2" height="23" fill="#ffcdd2"/>
<rect x="1327" y="1176" width="2" height="19" fill="#ffcdd2"/>
<rect x="1331" y="1176" width="2" height="18" fill="#ffcdd2"/>
<rect x="1336" y="1176" width="2" height="16" fill="#ffcdd2"/>
<rect x="1341" y="1176" width="2" height="8" fill="#ffcdd2"/>
<rect x="1346" y="1176" width="2" height="4" fill="#ffcdd2"/>
<rect x="1350" y="1176" width="2" height="2" fill="#ffcdd2"/>
<rect x="1355" y="1176" width="2" height="2" fill="#ffcdd2"/>
<rect x="1360" y="1176" width="2" height="3" fill="#ff5252"/>
<rect x="1364" y="1176" width="2" height="1" fill="#ffcdd2"/>
<rect x="1369" y="1176" width="2" height="1" fill="#ffcdd2"/>
<rect x="1374" y="1176" width="2" height="3" fill="#ff5252"/>
<rect x="1379" y="1176" width="2" height="5" fill="#ff5252"/>
<rect x="1383" y="1176" width="2" height="6" fill="#ff5252"/>
<rect x="1388" y="1176" width="2" height="7" fill="#ff5252"/>
<rect x="1393" y="1176" width="2" height="7" fill="#ff5252"/>
<rect x="1398" y="1176" width="2" height="11" fill="#ff5252"/>
<rect x="1402" y="1176" width="2" height="12" fill="#ff5252"/>
<rect x="1407" y="1176" width="2" height="13" fill="#ff5252"/>
<rect x="1412" y="1176" width="2" height="9" fill="#ffcdd2"/>
<rect x="1417" y="1176" width="2" height="7" fill="#ffcdd2"/>
<rect x="1421" y="1176" width="2" height="6" fill="#ffcdd2"/>
<rect x="1426" y="1176" width="2" height="8" fill="#ff5252"/>
<rect x="1431" y="1176" width="2" height="6" fill="#ffcdd2"/>
<rect x="1436" y="1176" width="2" height="5" fill="#ffcdd2"/>
<rect x="1440" y="1176" width="2" height="4" fill="#ffcdd2"/>
<rect x="1445" y="1176" width="2" height="6" fill="#ff5252"/>
<rect x="1450" y="1176" width="2" height="7" fill="#ff5252"/>
<rect x="1455" y="1176" width="2" height="8" fill="#ff5252"/>
<rect x="1459" y="1176" width="2" height="8" fill="#ff5252"/>
<rect x="1464" y="1176" width="2" height="6" fill="#ffcdd2"/>
<rect x="1469" y="1176" width="2" height="5" fill="#ffcdd2"/>
<rect x="1474" y="1176" width="2" height="4" fill="#ffcdd2"/>
<rect x="1478" y="1176" width="2" height="4" fill="#ffcdd2"/>
<rect x="1483" y="1176" width="2" height="3" fill="#ffcdd2"/>
<rect x="1488" y="1176" width="2" height="1" fill="#ffcdd2"/>
<rect x="1493" y="1173" width="2" height="3" fill="#089981"/>
<rect x="1497" y="1172" width="2" height="4" fill="#089981"/>
<rect x="1502" y="1170" width="2" height="6" fill="#089981"/>
<rect x="1507" y="1169" width="2" height="7" fill="#089981"/>
<rect x="1512" y="1166" width="2" height="10" fill="#089981"/>
<rect x="1516" y="1165" width="2" height="11" fill="#089981"/>
<rect x="1521" y="1167" width="2" height="9" fill="#b2dfdb"/>
<rect x="1526" y="1169" width="2" height="7" fill="#b2dfdb"/>
<rect x="1531" y="1170" width="2" height="6" fill="#b2dfdb"/>
<rect x="1535" y="1170" width="2" height="6" fill="#b2dfdb"/>
<rect x="1540" y="1170" width="2" height="6" fill="#b2dfdb"/>
<rect x="1545" y="1172" width="2" height="4" fill="#b2dfdb"/>
<rect x="1550" y="1174" width="2" height="2" fill="#b2dfdb"/>
<rect x="1554" y="1175" width="2" height="1" fill="#b2dfdb"/>
<rect x="1559" y="1176" width="2" height="3" fill="#ff5252"/>
<rect x="1564" y="1176" width="2" height="5" fill="#ff5252"/>
<rect x="1569" y="1176" width="2" height="4" fill="#ffcdd2"/>
<rect x="1573" y="1176" width="2" height="7" fill="#ff5252"/>
<rect x="1578" y="1176" width="2" height="8" fill="#ff5252"/>
<rect x="1583" y="1176" width="2" height="7" fill="#ffcdd2"/>
<rect x="1588" y="1176" width="2" height="6" fill="#ffcdd2"/>
<rect x="1592" y="1176" width="2" height="4" fill="#ffcdd2"/>
<rect x="1597" y="1176" width="2" height="3" fill="#ffcdd2"/>
<rect x="1602" y="1176" width="2" height="1" fill="#ffcdd2"/>
<rect x="1606" y="1173" width="2" height="3" fill="#089981"/>
<rect x="1611" y="1171" width="2" height="5" fill="#089981"/>
<rect x="1616" y="1171" width="2" height="5" fill="#b2dfdb"/>
<rect x="1621" y="1172" width="2" height="4" fill="#b2dfdb"/>
<rect x="1625" y="1172" width="2" height="4" fill="#b2dfdb"/>
<rect x="1630" y="1174" width="2" height="2" fill="#b2dfdb"/>
<rect x="1635" y="1176" width="2" height="1" fill="#b2dfdb"/>
<rect x="1640" y="1176" width="2" height="2" fill="#ff5252"/>
<rect x="1644" y="1176" width="2" height="11" fill="#ff5252"/>
<rect x="1649" y="1176" width="2" height="16" fill="#ff5252"/>
<rect x="1654" y="1176" width="2" height="16" fill="#ffcdd2"/>
<rect x="1659" y="1176" width="2" height="13" fill="#ffcdd2"/>
<rect x="1663" y="1176" width="2" height="12" fill="#ffcdd2"/>
<rect x="1668" y="1176" width="2" height="13" fill="#ff5252"/>
<rect x="1673" y="1176" width="2" height="14" fill="#ff5252"/>
<rect x="1678" y="1176" width="2" height="14" fill="#ff5252"/>
<rect x="1682" y="1176" width="2" height="12" fill="#ffcdd2"/>
<rect x="1687" y="1176" width="2" height="9" fill="#ffcdd2"/>
<rect x="1692" y="1176" width="2" height="5" fill="#ffcdd2"/>
<rect x="1697" y="1176" width="2" height="3" fill="#ffcdd2"/>
<rect x="1701" y="1176" width="2" height="2" fill="#ffcdd2"/>
<rect x="1706" y="1176" width="2" height="1" fill="#ffcdd2"/>
<rect x="1711" y="1173" width="2" height="3" fill="#089981"/>
<rect x="1716" y="1169" width="2" height="7" fill="#089981"/>
<rect x="1720" y="1166" width="2" height="10" fill="#089981"/>
<rect x="1725" y="1164" width="2" height="12" fill="#089981"/>
<rect x="1730" y="1164" width="2" height="12" fill="#089981"/>
<rect x="1735" y="1166" width="2" height="10" fill="#b2dfdb"/>
<rect x="1739" y="1169" width="2" height="7" fill="#b2dfdb"/>
<rect x="1744" y="1170" width="2" height="6" fill="#b2dfdb"/>
<rect x="1749" y="1170" width="2" height="6" fill="#b2dfdb"/>
<rect x="1754" y="1171" width="2" height="5" fill="#b2dfdb"/>
<rect x="1758" y="1175" width="2" height="1" fill="#b2dfdb"/>
<rect x="1763" y="1176" width="2" height="3" fill="#ff5252"/>
<rect x="1768" y="1176" width="2" height="3" fill="#ffcdd2"/>
<rect x="1773" y="1176" width="2" height="5" fill="#ff5252"/>
<rect x="1777" y="1176" width="2" height="4" fill="#ffcdd2"/>
<rect x="1782" y="1176" width="2" height="4" fill="#ffcdd2"/>
<rect x="1787" y="1176" width="2" height="2" fill="#ffcdd2"/>
<rect x="1792" y="1173" width="2" height="3" fill="#089981"/>
<rect x="1796" y="1172" width="2" height="4" fill="#089981"/>
<rect x="1801" y="1172" width="2" height="4" fill="#089981"/>
<rect x="1806" y="1173" width="2" height="3" fill="#b2dfdb"/>
<rect x="1811" y="1175" width="2" height="1" fill="#b2dfdb"/>
<rect x="1815" y="1176" width="2" height="1" fill="#ff5252"/>
<rect x="1820" y="1176" width="2" height="2" fill="#ff5252"/>
<rect x="1825" y="1176" width="2" height="3" fill="#ff5252"/>
<rect x="1830" y="1176" width="2" height="2" fill="#ffcdd2"/>
<rect x="1834" y="1176" width="2" height="4" fill="#ff5252"/>
<rect x="1839" y="1176" width="2" height="6" fill="#ff5252"/>
<rect x="1844" y="1176" width="2" height="9" fill="#ff5252"/>
<polyline points="-25.0,1179.6 -20.0,1179.3 -15.0,1179.1 -11.0,1178.9 -6.0,1178.7 -1.0,1178.7 4.0,1178.5 8.0,1178.4 13.0,1178.5 18.0,1178.5 23.0,1178.6 27.0,1178.7 32.0,1178.8 37.0,1178.7 42.0,1177.9 46.0,1177.0 51.0,1176.4 56.0,1175.7 61.0,1174.8 65.0,1173.3 70.0,1170.6 75.0,1168.8 80.0,1165.9 84.0,1161.3 89.0,1152.2 94.0,1147.0 99.0,1141.7 103.0,1138.4 108.0,1136.0 113.0,1131.3 118.0,1123.0 122.0,1117.1 127.0,1114.2 132.0,1113.0 137.0,1113.0 141.0,1112.2 146.0,1110.6 151.0,1104.1 156.0,1096.4 160.0,1083.3 165.0,1064.3 170.0,1055.5 174.0,1053.5 179.0,1056.1 184.0,1055.2 189.0,1051.6 193.0,1050.3 198.0,1059.8 203.0,1065.0 208.0,1069.8 212.0,1076.0 217.0,1080.1 222.0,1085.0 227.0,1088.7 231.0,1091.8 236.0,1093.3 241.0,1101.3 246.0,1110.0 250.0,1116.7 255.0,1123.6 260.0,1130.5 265.0,1135.0 269.0,1137.6 274.0,1140.6 279.0,1146.6 284.0,1151.8 288.0,1155.4 293.0,1160.4 298.0,1165.4 303.0,1168.8 307.0,1165.9 312.0,1162.1 317.0,1158.2 322.0,1155.9 326.0,1155.0 331.0,1153.9 336.0,1156.9 341.0,1157.0 345.0,1159.6 350.0,1160.3 355.0,1155.5 360.0,1153.8 364.0,1152.3 369.0,1147.9 374.0,1133.9 379.0,1121.2 383.0,1110.8 388.0,1103.7 393.0,1106.3 398.0,1105.7 402.0,1104.5 407.0,1104.2 412.0,1106.1 416.0,1108.7 421.0,1111.4 426.0,1116.3 431.0,1120.0 435.0,1123.4 440.0,1126.5 445.0,1128.2 450.0,1132.1 454.0,1139.3 459.0,1152.3 464.0,1159.9 469.0,1169.9 473.0,1181.4 478.0,1191.5 483.0,1197.6 488.0,1201.7 492.0,1203.6 497.0,1205.7 502.0,1207.1 507.0,1206.5 511.0,1202.8 516.0,1196.4 521.0,1190.7 526.0,1186.8 530.0,1185.2 535.0,1186.1 540.0,1182.5 545.0,1180.7 549.0,1182.1 554.0,1182.8 559.0,1183.3 564.0,1190.6 568.0,1195.1 573.0,1201.4 578.0,1205.9 583.0,1210.4 587.0,1212.5 592.0,1196.2 597.0,1196.2 602.0,1194.5 606.0,1191.6 611.0,1187.1 616.0,1188.4 621.0,1190.6 625.0,1196.6 630.0,1204.1 635.0,1205.7 640.0,1205.0 644.0,1202.7 649.0,1199.4 654.0,1195.8 658.0,1194.8 663.0,1193.0 668.0,1192.2 673.0,1185.8 677.0,1183.6 682.0,1182.6 687.0,1182.0 692.0,1179.9 696.0,1178.0 701.0,1176.8 706.0,1177.7 711.0,1178.7 715.0,1182.6 720.0,1187.2 725.0,1189.1 730.0,1193.0 734.0,1194.7 739.0,1198.6 744.0,1200.4 749.0,1200.0 753.0,1199.0 758.0,1203.1 763.0,1206.6 768.0,1211.2 772.0,1208.6 777.0,1208.7 782.0,1206.6 787.0,1201.5 791.0,1198.1 796.0,1195.1 801.0,1193.4 806.0,1191.9 810.0,1191.0 815.0,1190.0 820.0,1188.7 825.0,1187.7 829.0,1186.6 834.0,1182.8 839.0,1179.5 844.0,1177.2 848.0,1175.7 853.0,1174.2 858.0,1171.9 863.0,1169.3 867.0,1168.5 872.0,1169.0 877.0,1169.2 882.0,1169.6 886.0,1170.3 891.0,1171.5 896.0,1173.2 900.0,1174.0 905.0,1175.4 910.0,1171.8 915.0,1168.6 919.0,1163.3 924.0,1161.8 929.0,1156.6 934.0,1152.0 938.0,1149.3 943.0,1151.3 948.0,1153.1 953.0,1155.4 957.0,1155.9 962.0,1157.6 967.0,1159.6 972.0,1160.5 976.0,1160.3 981.0,1163.1 986.0,1165.3 991.0,1166.9 995.0,1168.8 1000.0,1170.2 1005.0,1172.5 1010.0,1175.0 1014.0,1179.5 1019.0,1182.1 1024.0,1183.8 1029.0,1184.8 1033.0,1184.4 1038.0,1185.0 1043.0,1187.7 1048.0,1188.2 1052.0,1188.0 1057.0,1185.8 1062.0,1182.6 1067.0,1180.4 1071.0,1179.5 1076.0,1180.5 1081.0,1182.3 1086.0,1183.6 1090.0,1184.0 1095.0,1182.6 1100.0,1183.6 1105.0,1183.7 1109.0,1183.7 1114.0,1184.9 1119.0,1187.0 1124.0,1189.5 1128.0,1188.0 1133.0,1186.0 1138.0,1184.4 1142.0,1185.0 1147.0,1184.6 1152.0,1183.0 1157.0,1181.3 1161.0,1179.2 1166.0,1178.6 1171.0,1177.1 1176.0,1175.8 1180.0,1175.4 1185.0,1175.1 1190.0,1173.4 1195.0,1172.2 1199.0,1170.2 1204.0,1166.7 1209.0,1160.9 1214.0,1152.1 1218.0,1145.5 1223.0,1138.4 1228.0,1130.4 1233.0,1125.6 1237.0,1119.6 1242.0,1105.4 1247.0,1096.6 1252.0,1090.4 1256.0,1085.8 1261.0,1081.0 1266.0,1078.2 1271.0,1085.7 1275.0,1093.4 1280.0,1100.5 1285.0,1106.3 1290.0,1109.9 1294.0,1116.3 1299.0,1121.8 1304.0,1127.6 1309.0,1134.4 1313.0,1141.6 1318.0,1151.9 1323.0,1156.0 1328.0,1156.8 1332.0,1160.3 1337.0,1162.5 1342.0,1156.7 1347.0,1153.3 1351.0,1152.3 1356.0,1152.6 1361.0,1154.5 1365.0,1153.0 1370.0,1151.9 1375.0,1155.8 1380.0,1159.1 1384.0,1161.2 1389.0,1163.5 1394.0,1166.1 1399.0,1172.8 1403.0,1176.0 1408.0,1180.8 1413.0,1179.4 1418.0,1178.8 1422.0,1178.9 1427.0,1182.7 1432.0,1182.0 1437.0,1182.6 1441.0,1182.8 1446.0,1186.4 1451.0,1189.1 1456.0,1192.0 1460.0,1194.5 1465.0,1193.9 1470.0,1193.7 1475.0,1194.5 1479.0,1194.4 1484.0,1194.2 1489.0,1192.3 1494.0,1188.5 1498.0,1185.9 1503.0,1183.0 1508.0,1179.3 1513.0,1174.9 1517.0,1171.1 1522.0,1170.2 1527.0,1170.3 1532.0,1169.5 1536.0,1168.0 1541.0,1167.0 1546.0,1168.4 1551.0,1169.8 1555.0,1170.9 1560.0,1174.8 1565.0,1178.4 1570.0,1178.9 1574.0,1183.4 1579.0,1186.0 1584.0,1187.4 1589.0,1187.0 1593.0,1186.1 1598.0,1186.5 1603.0,1183.9 1607.0,1179.9 1612.0,1176.6 1617.0,1175.8 1622.0,1174.8 1626.0,1173.9 1631.0,1176.3 1636.0,1177.5 1641.0,1180.1 1645.0,1192.1 1650.0,1201.1 1655.0,1204.4 1660.0,1204.9 1664.0,1207.4 1669.0,1211.1 1674.0,1215.5 1679.0,1219.2 1683.0,1220.1 1688.0,1219.7 1693.0,1216.4 1698.0,1215.1 1702.0,1215.0 1707.0,1213.7 1712.0,1209.6 1717.0,1204.1 1721.0,1198.3 1726.0,1193.8 1731.0,1190.7 1736.0,1189.4 1740.0,1190.8 1745.0,1190.1 1750.0,1189.3 1755.0,1188.1 1759.0,1192.1 1764.0,1197.4 1769.0,1198.1 1774.0,1201.6 1778.0,1201.6 1783.0,1201.9 1788.0,1200.1 1793.0,1194.7 1797.0,1193.4 1802.0,1192.1 1807.0,1192.6 1812.0,1194.6 1816.0,1196.1 1821.0,1197.5 1826.0,1199.5 1831.0,1199.5 1835.0,1201.9 1840.0,1205.9 1845.0,1210.7" fill="none" stroke="#2196f3" stroke-width="4" stroke-linejoin="round" stroke-linecap="round"/>
<polyline points="-25.0,1176.8 -20.0,1177.3 -15.0,1177.7 -11.0,1177.9 -6.0,1178.1 -1.0,1178.2 4.0,1178.3 8.0,1178.3 13.0,1178.3 18.0,1178.4 23.0,1178.4 27.0,1178.5 32.0,1178.5 37.0,1178.6 42.0,1178.4 46.0,1178.1 51.0,1177.8 56.0,1177.4 61.0,1176.9 65.0,1176.1 70.0,1175.0 75.0,1173.8 80.0,1172.2 84.0,1170.0 89.0,1166.5 94.0,1162.6 99.0,1158.4 103.0,1154.4 108.0,1150.7 113.0,1146.8 118.0,1142.1 122.0,1137.1 127.0,1132.5 132.0,1128.6 137.0,1125.5 141.0,1122.8 146.0,1120.4 151.0,1117.1 156.0,1113.0 160.0,1107.0 165.0,1098.5 170.0,1089.9 174.0,1082.6 179.0,1077.3 184.0,1072.9 189.0,1068.6 193.0,1065.0 198.0,1063.9 203.0,1064.1 208.0,1065.3 212.0,1067.4 217.0,1070.0 222.0,1073.0 227.0,1076.1 231.0,1079.3 236.0,1082.1 241.0,1085.9 246.0,1090.7 250.0,1095.9 255.0,1101.5 260.0,1107.3 265.0,1112.8 269.0,1117.8 274.0,1122.3 279.0,1127.2 284.0,1132.1 288.0,1136.8 293.0,1141.5 298.0,1146.3 303.0,1150.8 307.0,1153.8 312.0,1155.5 317.0,1156.0 322.0,1156.0 326.0,1155.8 331.0,1155.4 336.0,1155.7 341.0,1156.0 345.0,1156.7 350.0,1157.4 355.0,1157.0 360.0,1156.4 364.0,1155.6 369.0,1154.0 374.0,1150.0 379.0,1144.2 383.0,1137.5 388.0,1130.8 393.0,1125.9 398.0,1121.8 402.0,1118.4 407.0,1115.5 412.0,1113.6 416.0,1112.7 421.0,1112.4 426.0,1113.2 431.0,1114.5 435.0,1116.3 440.0,1118.3 445.0,1120.3 450.0,1122.7 454.0,1126.0 459.0,1131.3 464.0,1137.0 469.0,1143.6 473.0,1151.1 478.0,1159.2 483.0,1166.9 488.0,1173.9 492.0,1179.8 497.0,1185.0 502.0,1189.4 507.0,1192.8 511.0,1194.8 516.0,1195.1 521.0,1194.2 526.0,1192.7 530.0,1191.2 535.0,1190.2 540.0,1188.7 545.0,1187.1 549.0,1186.1 554.0,1185.4 559.0,1185.0 564.0,1186.1 568.0,1187.9 573.0,1190.6 578.0,1193.7 583.0,1197.0 587.0,1200.1 592.0,1199.3 597.0,1198.7 602.0,1197.9 606.0,1196.6 611.0,1194.7 616.0,1193.4 621.0,1192.9 625.0,1193.6 630.0,1195.7 635.0,1197.7 640.0,1199.2 644.0,1199.9 649.0,1199.8 654.0,1199.0 658.0,1198.2 663.0,1197.1 668.0,1196.1 673.0,1194.1 677.0,1192.0 682.0,1190.1 687.0,1188.5 692.0,1186.8 696.0,1185.0 701.0,1183.4 706.0,1182.2 711.0,1181.5 715.0,1181.7 720.0,1182.8 725.0,1184.1 730.0,1185.9 734.0,1187.6 739.0,1189.8 744.0,1191.9 749.0,1193.5 753.0,1194.6 758.0,1196.3 763.0,1198.4 768.0,1200.9 772.0,1202.5 777.0,1203.7 782.0,1204.3 787.0,1203.7 791.0,1202.6 796.0,1201.1 801.0,1199.6 806.0,1198.0 810.0,1196.6 815.0,1195.3 820.0,1194.0 825.0,1192.7 829.0,1191.5 834.0,1189.7 839.0,1187.7 844.0,1185.6 848.0,1183.6 853.0,1181.7 858.0,1179.8 863.0,1177.7 867.0,1175.8 872.0,1174.5 877.0,1173.4 882.0,1172.7 886.0,1172.2 891.0,1172.0 896.0,1172.3 900.0,1172.6 905.0,1173.2 910.0,1172.9 915.0,1172.0 919.0,1170.3 924.0,1168.6 929.0,1166.2 934.0,1163.3 938.0,1160.5 943.0,1158.7 948.0,1157.6 953.0,1157.1 957.0,1156.9 962.0,1157.0 967.0,1157.6 972.0,1158.1 976.0,1158.6 981.0,1159.5 986.0,1160.6 991.0,1161.9 995.0,1163.3 1000.0,1164.7 1005.0,1166.2 1010.0,1168.0 1014.0,1170.3 1019.0,1172.6 1024.0,1174.9 1029.0,1176.9 1033.0,1178.4 1038.0,1179.7 1043.0,1181.3 1048.0,1182.7 1052.0,1183.7 1057.0,1184.1 1062.0,1183.8 1067.0,1183.2 1071.0,1182.4 1076.0,1182.0 1081.0,1182.1 1086.0,1182.4 1090.0,1182.7 1095.0,1182.7 1100.0,1182.9 1105.0,1183.0 1109.0,1183.2 1114.0,1183.5 1119.0,1184.2 1124.0,1185.3 1128.0,1185.8 1133.0,1185.9 1138.0,1185.6 1142.0,1185.5 1147.0,1185.3 1152.0,1184.8 1157.0,1184.1 1161.0,1183.2 1166.0,1182.2 1171.0,1181.2 1176.0,1180.1 1180.0,1179.2 1185.0,1178.4 1190.0,1177.4 1195.0,1176.3 1199.0,1175.1 1204.0,1173.4 1209.0,1170.9 1214.0,1167.2 1218.0,1162.8 1223.0,1157.9 1228.0,1152.4 1233.0,1147.1 1237.0,1141.6 1242.0,1134.3 1247.0,1126.8 1252.0,1119.5 1256.0,1112.8 1261.0,1106.4 1266.0,1100.8 1271.0,1097.8 1275.0,1096.9 1280.0,1097.6 1285.0,1099.3 1290.0,1101.5 1294.0,1104.4 1299.0,1107.9 1304.0,1111.8 1309.0,1116.3 1313.0,1121.4 1318.0,1127.5 1323.0,1133.2 1328.0,1137.9 1332.0,1142.4 1337.0,1146.4 1342.0,1148.5 1347.0,1149.4 1351.0,1150.0 1356.0,1150.5 1361.0,1151.3 1365.0,1151.7 1370.0,1151.7 1375.0,1152.5 1380.0,1153.8 1384.0,1155.3 1389.0,1156.9 1394.0,1158.8 1399.0,1161.6 1403.0,1164.5 1408.0,1167.7 1413.0,1170.1 1418.0,1171.8 1422.0,1173.2 1427.0,1175.1 1432.0,1176.5 1437.0,1177.7 1441.0,1178.7 1446.0,1180.3 1451.0,1182.0 1456.0,1184.0 1460.0,1186.1 1465.0,1187.7 1470.0,1188.9 1475.0,1190.0 1479.0,1190.9 1484.0,1191.6 1489.0,1191.7 1494.0,1191.1 1498.0,1190.0 1503.0,1188.6 1508.0,1186.8 1513.0,1184.4 1517.0,1181.7 1522.0,1179.4 1527.0,1177.6 1532.0,1176.0 1536.0,1174.4 1541.0,1172.9 1546.0,1172.0 1551.0,1171.6 1555.0,1171.4 1560.0,1172.1 1565.0,1173.4 1570.0,1174.5 1574.0,1176.3 1579.0,1178.2 1584.0,1180.0 1589.0,1181.4 1593.0,1182.4 1598.0,1183.2 1603.0,1183.3 1607.0,1182.7 1612.0,1181.4 1617.0,1180.3 1622.0,1179.2 1626.0,1178.2 1631.0,1177.8 1636.0,1177.7 1641.0,1178.2 1645.0,1181.0 1650.0,1185.0 1655.0,1188.9 1660.0,1192.1 1664.0,1195.2 1669.0,1198.3 1674.0,1201.8 1679.0,1205.2 1683.0,1208.2 1688.0,1210.5 1693.0,1211.7 1698.0,1212.4 1702.0,1212.9 1707.0,1213.0 1712.0,1212.4 1717.0,1210.7 1721.0,1208.2 1726.0,1205.3 1731.0,1202.4 1736.0,1199.8 1740.0,1198.0 1745.0,1196.4 1750.0,1195.0 1755.0,1193.6 1759.0,1193.3 1764.0,1194.2 1769.0,1195.0 1774.0,1196.3 1778.0,1197.3 1783.0,1198.3 1788.0,1198.6 1793.0,1197.9 1797.0,1197.0 1802.0,1196.0 1807.0,1195.3 1812.0,1195.2 1816.0,1195.4 1821.0,1195.8 1826.0,1196.5 1831.0,1197.1 1835.0,1198.1 1840.0,1199.6 1845.0,1201.9" fill="none" stroke="#f23645" stroke-width="4" stroke-linejoin="round" stroke-linecap="round"/>
</g>
<rect x="0" y="812" width="2448" height="2" fill="#e0e3eb"/>
<rect x="0" y="1026" width="2448" height="2" fill="#e0e3eb"/>
<rect x="1" y="1" width="2446" height="1294" rx="2" fill="none" stroke="#eef0f4" stroke-width="2"/>
</svg>
<div class="t" style="left:18.28px;top:25.7px;font-weight:normal;transform:scaleX(1.0161);color:#131722">(RIPPLE/USD), 1D</div>
<div class="t" style="left:229.98px;top:25.7px;font-weight:normal;transform:scaleX(1.025);color:#131722">O</div>
<div class="t" style="left:246.76px;top:25.7px;font-weight:normal;transform:scaleX(1.1198);color:#f23645">1.99964</div>
<div class="t" style="left:353.72px;top:25.7px;font-weight:normal;transform:scaleX(1.1385);color:#131722">H</div>
<div class="t" style="left:372.85px;top:25.7px;font-weight:normal;transform:scaleX(1.1506);color:#f23645">2.02488</div>
<div class="t" style="left:481.4px;top:25.7px;font-weight:normal;transform:scaleX(1.05);color:#131722">L</div>
<div class="t" style="left:493.54px;top:25.7px;font-weight:normal;transform:scaleX(1.1325);color:#f23645">1.84823</div>
<div class="t" style="left:600.99px;top:25.7px;font-weight:normal;transform:scaleX(1.0133);color:#131722">C</div>
<div class="t" style="left:618.09px;top:25.7px;font-weight:normal;transform:scaleX(1.0543);color:#f23645">1.91004</div>
<div class="t" style="left:720.37px;top:25.7px;font-weight:normal;transform:scaleX(1.1295);color:#f23645">−0.08957</div>
<div class="t" style="left:838.28px;top:25.7px;font-weight:normal;transform:scaleX(1.1174);color:#f23645">(−4.48%)</div>
<div class="t" style="left:16.7px;top:59.6px;font-weight:normal;transform:scaleX(1.0995);color:#131722">EMA (50, close, 0)</div>
<div class="t" style="left:238.36px;top:59.6px;font-weight:normal;transform:scaleX(1.1378);color:#f23645">2.42954</div>
<div class="t" style="left:16.72px;top:93.9px;font-weight:normal;transform:scaleX(1.0909);color:#131722">EMA (100, close, 0)</div>
<div class="t" style="left:250.45px;top:93.9px;font-weight:normal;transform:scaleX(1.1481);color:#2962ff">2.56360</div>
<div class="t" style="left:16.69px;top:127.5px;font-weight:normal;transform:scaleX(1.1071);color:#131722">EMA (200, close, 0)</div>
<div class="t" style="left:253.64px;top:127.5px;font-weight:normal;transform:scaleX(1.1617);color:#9c27b0">2.54498</div>
<div class="t" style="left:16.85px;top:838.9px;font-weight:normal;transform:scaleX(1.0232);color:#131722">RSI (14)</div>
<div class="t" style="left:119.87px;top:838.9px;font-weight:normal;transform:scaleX(1.1304);color:#9c54c4">30.39</div>
<div class="t" style="left:15.82px;top:1054.2px;font-weight:normal;transform:scaleX(1.0884);color:#131722">MACD (12, 26, close, 9)</div>
<div class="t" style="left:297.78px;top:1054.2px;font-weight:normal;transform:scaleX(1.1232);color:#ff5252">−0.03097</div>
<div class="t" style="left:419.95px;top:1054.2px;font-weight:normal;transform:scaleX(1.0537);color:#2196f3">−0.12051</div>
<div class="t" style="left:535.85px;top:1054.2px;font-weight:normal;transform:scaleX(1.1474);color:#f23645">−0.08954</div>
<div class="t" style="left:2316.25px;top:29.75px;font-weight:normal;transform:scaleX(1.1585);color:#131722">4.00000</div>
<div class="t" style="left:2315.08px;top:157.25px;font-weight:normal;transform:scaleX(1.1728);color:#131722">3.50000</div>
<div class="t" style="left:2315.08px;top:284.0px;font-weight:normal;transform:scaleX(1.1728);color:#131722">3.00000</div>
<div class="t" style="left:2314.54px;top:791.5px;font-weight:normal;transform:scaleX(1.1787);color:#131722">1.00000</div>
<div class="t" style="left:2314.54px;top:664.6px;font-weight:normal;transform:scaleX(1.1787);color:#131722">1.50000</div>
<div class="t" style="left:2314.56px;top:813.2px;font-weight:normal;transform:scaleX(1.1676);color:#131722">100.00</div>
<div class="t" style="left:2315.46px;top:874.8px;font-weight:normal;transform:scaleX(1.1429);color:#131722">75.00</div>
<div class="t" style="left:2315.46px;top:937.8px;font-weight:normal;transform:scaleX(1.1429);color:#131722">50.00</div>
<div class="t" style="left:2315.46px;top:999.6px;font-weight:normal;transform:scaleX(1.1429);color:#131722">25.00</div>
<div class="t" style="left:2315.74px;top:1021.4px;font-weight:normal;transform:scaleX(1.1642);color:#131722;clip-path:inset(6.6px 0 0 0)">0.50000</div>
<div style="position:absolute;left:2299px;top:354.0px;width:124.0px;height:34.0px;background:#2962ff;border-radius:0 4px 4px 0"></div>
<div class="t" style="left:2315.54px;top:361.0px;font-weight:normal;transform:scaleX(1.1642);color:#fff">2.56360</div>
<div style="position:absolute;left:2299px;top:388.0px;width:124.0px;height:34.0px;background:#9c27b0;border-radius:0 4px 4px 0"></div>
<div class="t" style="left:2315.54px;top:395.0px;font-weight:normal;transform:scaleX(1.1642);color:#fff">2.54498</div>
<div style="position:absolute;left:2299px;top:422.0px;width:124.0px;height:34.0px;background:#f23645;border-radius:0 4px 4px 0"></div>
<div class="t" style="left:2315.55px;top:429.0px;font-weight:normal;transform:scaleX(1.15);color:#fff">2.42954</div>
<div style="position:absolute;left:2299px;top:520.0px;width:124.0px;height:34.0px;background:#000;border-radius:0 4px 4px 0"></div>
<div class="t" style="left:2315.54px;top:527.0px;font-weight:normal;transform:scaleX(1.1642);color:#fff">2.00248</div>
<div style="position:absolute;left:2299px;top:554.0px;width:124.0px;height:34.0px;background:#f23645;border-radius:0 4px 4px 0"></div>
<div class="t" style="left:2314.37px;top:561.0px;font-weight:normal;transform:scaleX(1.1642);color:#fff">1.91004</div>
<div style="position:absolute;left:2299px;top:628.0px;width:124.0px;height:34.0px;background:#000;border-radius:0 4px 4px 0"></div>
<div class="t" style="left:2314.34px;top:635.0px;font-weight:normal;transform:scaleX(1.1788);color:#fff">1.61651</div>
<div style="position:absolute;left:2299px;top:669.0px;width:124.0px;height:34.0px;background:#000;border-radius:0 4px 4px 0"></div>
<div class="t" style="left:2314.34px;top:676.0px;font-weight:normal;transform:scaleX(1.1788);color:#fff">1.45626</div>
<div style="position:absolute;left:2299px;top:980.0px;width:94.0px;height:34.0px;background:#9c54c4;border-radius:0 4px 4px 0"></div>
<div class="t" style="left:2315.76px;top:987.0px;font-weight:normal;transform:scaleX(1.1446);color:#fff">30.39</div>
<div class="t" style="left:2315.74px;top:1165.5px;font-weight:normal;transform:scaleX(1.1642);color:#131722">0.00000</div>
<div style="position:absolute;left:2299px;top:1230px;width:140px;height:9px;background:#2196f3;border-radius:0 4px 0 0"></div>
<div style="position:absolute;left:2299px;top:1168.0px;width:140.0px;height:34.0px;background:#ff5252;border-radius:0 4px 4px 0"></div>
<div class="t" style="left:2314.94px;top:1175.0px;font-weight:normal;transform:scaleX(1.1568);color:#fff">−0.03097</div>
<div style="position:absolute;left:2299px;top:1202.0px;width:140.0px;height:34.0px;background:#f23645;border-radius:0 4px 4px 0"></div>
<div class="t" style="left:2314.94px;top:1209.0px;font-weight:normal;transform:scaleX(1.1568);color:#fff">−0.08954</div>
<div class="t" style="left:25.3px;top:1258.2px;font-weight:normal;transform:scaleX(1.1);color:#131722">4</div>
<div class="t" style="left:275.56px;top:1258.2px;font-weight:bold;letter-spacing:2.2px;transform:scaleX(1.0954);color:#131722">2025</div>
<div class="t" style="left:564.74px;top:1258.2px;font-weight:normal;transform:scaleX(1.0789);color:#131722">Mar</div>
<div class="t" style="left:851.85px;top:1258.2px;font-weight:normal;transform:scaleX(1.0738);color:#131722">May</div>
<div class="t" style="left:1149.17px;top:1258.2px;font-weight:normal;transform:scaleX(1.1333);color:#131722">Jul</div>
<div class="t" style="left:1438.32px;top:1258.2px;font-weight:normal;transform:scaleX(1.0795);color:#131722">Sep</div>
<div class="t" style="left:1725.69px;top:1258.2px;font-weight:normal;transform:scaleX(1.1051);color:#131722">Nov</div>
<div class="t" style="left:2006.72px;top:1258.2px;font-weight:bold;letter-spacing:2.2px;transform:scaleX(1.1268);color:#131722">2026</div>
</body></html>
